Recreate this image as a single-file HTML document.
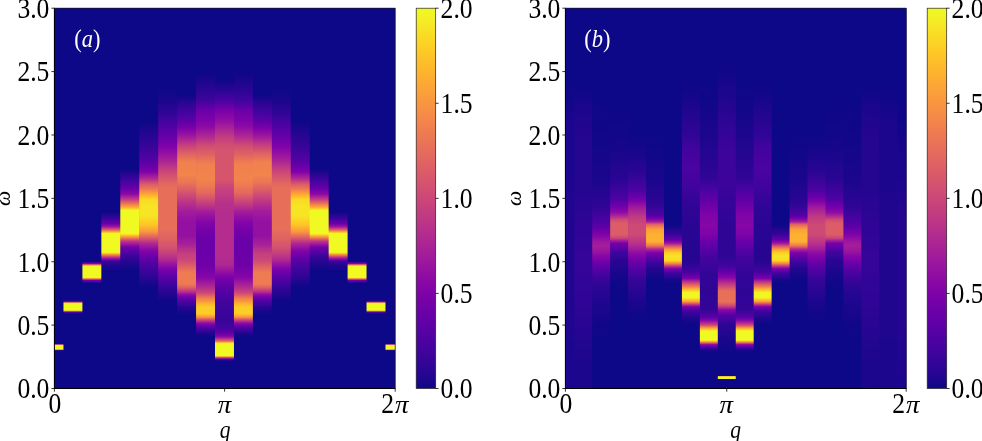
<!DOCTYPE html>
<html><head><meta charset="utf-8"><title>figure</title>
<style>
html,body{margin:0;padding:0;background:#fff;}
body{width:982px;height:441px;overflow:hidden;}
svg{display:block;}
text{font-family:"Liberation Serif","DejaVu Serif",serif;}
</style></head><body>
<svg width="982" height="441" viewBox="0 0 982 441">
<rect width="982" height="441" fill="#fff"/>
<defs><linearGradient id="cb" x1="0" y1="0" x2="0" y2="1"><stop offset="0.0000" stop-color="#f0f921"/><stop offset="0.0156" stop-color="#f1f426"/><stop offset="0.0312" stop-color="#f4ed27"/><stop offset="0.0469" stop-color="#f6e626"/><stop offset="0.0625" stop-color="#f8df25"/><stop offset="0.0781" stop-color="#fad824"/><stop offset="0.0938" stop-color="#fcd225"/><stop offset="0.1094" stop-color="#fdcb26"/><stop offset="0.1250" stop-color="#fdc527"/><stop offset="0.1406" stop-color="#febe2a"/><stop offset="0.1562" stop-color="#feb82c"/><stop offset="0.1719" stop-color="#fdb22f"/><stop offset="0.1875" stop-color="#fdac33"/><stop offset="0.2031" stop-color="#fca636"/><stop offset="0.2188" stop-color="#fba139"/><stop offset="0.2344" stop-color="#fa9b3d"/><stop offset="0.2500" stop-color="#f89540"/><stop offset="0.2656" stop-color="#f79044"/><stop offset="0.2812" stop-color="#f58b47"/><stop offset="0.2969" stop-color="#f3854b"/><stop offset="0.3125" stop-color="#f0804e"/><stop offset="0.3281" stop-color="#ee7b51"/><stop offset="0.3438" stop-color="#eb7655"/><stop offset="0.3594" stop-color="#e97158"/><stop offset="0.3750" stop-color="#e66c5c"/><stop offset="0.3906" stop-color="#e3685f"/><stop offset="0.4062" stop-color="#e06363"/><stop offset="0.4219" stop-color="#dd5e66"/><stop offset="0.4375" stop-color="#da5a6a"/><stop offset="0.4531" stop-color="#d6556d"/><stop offset="0.4688" stop-color="#d35171"/><stop offset="0.4844" stop-color="#cf4c74"/><stop offset="0.5000" stop-color="#cc4778"/><stop offset="0.5156" stop-color="#c8437b"/><stop offset="0.5312" stop-color="#c43e7f"/><stop offset="0.5469" stop-color="#c03a83"/><stop offset="0.5625" stop-color="#bc3587"/><stop offset="0.5781" stop-color="#b7318a"/><stop offset="0.5938" stop-color="#b32c8e"/><stop offset="0.6094" stop-color="#ae2892"/><stop offset="0.6250" stop-color="#aa2395"/><stop offset="0.6406" stop-color="#a51f99"/><stop offset="0.6562" stop-color="#a01a9c"/><stop offset="0.6719" stop-color="#9a169f"/><stop offset="0.6875" stop-color="#9511a1"/><stop offset="0.7031" stop-color="#8f0da4"/><stop offset="0.7188" stop-color="#8a09a5"/><stop offset="0.7344" stop-color="#8405a7"/><stop offset="0.7500" stop-color="#7e03a8"/><stop offset="0.7656" stop-color="#7801a8"/><stop offset="0.7812" stop-color="#7201a8"/><stop offset="0.7969" stop-color="#6c00a8"/><stop offset="0.8125" stop-color="#6600a7"/><stop offset="0.8281" stop-color="#6001a6"/><stop offset="0.8438" stop-color="#5901a5"/><stop offset="0.8594" stop-color="#5302a3"/><stop offset="0.8750" stop-color="#4c02a1"/><stop offset="0.8906" stop-color="#46039f"/><stop offset="0.9062" stop-color="#3f049c"/><stop offset="0.9219" stop-color="#38049a"/><stop offset="0.9375" stop-color="#310597"/><stop offset="0.9531" stop-color="#2a0593"/><stop offset="0.9688" stop-color="#220690"/><stop offset="0.9844" stop-color="#19068c"/><stop offset="1.0000" stop-color="#0d0887"/></linearGradient><linearGradient id="a0" gradientUnits="userSpaceOnUse" x1="0" y1="8.2" x2="0" y2="388.5"><stop offset="0.0000" stop-color="#0d0887"/><stop offset="0.8825" stop-color="#0d0887"/><stop offset="0.8835" stop-color="#8b0aa5"/><stop offset="0.8861" stop-color="#f0f921"/><stop offset="0.8967" stop-color="#f0f921"/><stop offset="0.8993" stop-color="#8b0aa5"/><stop offset="0.9003" stop-color="#0d0887"/><stop offset="1.0000" stop-color="#0d0887"/></linearGradient><linearGradient id="a1" gradientUnits="userSpaceOnUse" x1="0" y1="8.2" x2="0" y2="388.5"><stop offset="0.0000" stop-color="#0d0887"/><stop offset="0.7681" stop-color="#0d0887"/><stop offset="0.7712" stop-color="#6a00a8"/><stop offset="0.7731" stop-color="#cd4a76"/><stop offset="0.7760" stop-color="#f0f921"/><stop offset="0.7944" stop-color="#f0f921"/><stop offset="0.7991" stop-color="#6a00a8"/><stop offset="0.7994" stop-color="#6300a7"/><stop offset="0.8023" stop-color="#0d0887"/><stop offset="1.0000" stop-color="#0d0887"/></linearGradient><linearGradient id="a2" gradientUnits="userSpaceOnUse" x1="0" y1="8.2" x2="0" y2="388.5"><stop offset="0.0000" stop-color="#0d0887"/><stop offset="0.6661" stop-color="#0d0887"/><stop offset="0.6679" stop-color="#3c049b"/><stop offset="0.6713" stop-color="#7e03a8"/><stop offset="0.6732" stop-color="#c13b82"/><stop offset="0.6753" stop-color="#f2844b"/><stop offset="0.6779" stop-color="#f0f921"/><stop offset="0.7081" stop-color="#f0f921"/><stop offset="0.7100" stop-color="#fdac33"/><stop offset="0.7121" stop-color="#e16462"/><stop offset="0.7152" stop-color="#8808a6"/><stop offset="0.7160" stop-color="#6a00a8"/><stop offset="0.7205" stop-color="#310597"/><stop offset="0.7226" stop-color="#0d0887"/><stop offset="1.0000" stop-color="#0d0887"/></linearGradient><linearGradient id="a3" gradientUnits="userSpaceOnUse" x1="0" y1="8.2" x2="0" y2="388.5"><stop offset="0.0000" stop-color="#0d0887"/><stop offset="0.5359" stop-color="#0d0887"/><stop offset="0.5417" stop-color="#20068f"/><stop offset="0.5469" stop-color="#2c0594"/><stop offset="0.5517" stop-color="#370499"/><stop offset="0.5522" stop-color="#38049a"/><stop offset="0.5575" stop-color="#4b03a1"/><stop offset="0.5627" stop-color="#5e01a6"/><stop offset="0.5661" stop-color="#6a00a8"/><stop offset="0.5680" stop-color="#7501a8"/><stop offset="0.5732" stop-color="#9511a1"/><stop offset="0.5753" stop-color="#a11b9b"/><stop offset="0.5785" stop-color="#bf3984"/><stop offset="0.5832" stop-color="#e16462"/><stop offset="0.5837" stop-color="#e56b5d"/><stop offset="0.5877" stop-color="#fca636"/><stop offset="0.5890" stop-color="#febd2a"/><stop offset="0.5924" stop-color="#f0f921"/><stop offset="0.6421" stop-color="#f0f921"/><stop offset="0.6469" stop-color="#fba238"/><stop offset="0.6476" stop-color="#f89540"/><stop offset="0.6521" stop-color="#d7566c"/><stop offset="0.6555" stop-color="#b12a90"/><stop offset="0.6574" stop-color="#a01a9c"/><stop offset="0.6626" stop-color="#6400a7"/><stop offset="0.6663" stop-color="#370499"/><stop offset="0.6679" stop-color="#330597"/><stop offset="0.6732" stop-color="#280592"/><stop offset="0.6779" stop-color="#1d068e"/><stop offset="0.6784" stop-color="#1d068e"/><stop offset="0.6837" stop-color="#19068c"/><stop offset="0.6889" stop-color="#100788"/><stop offset="0.6937" stop-color="#0d0887"/><stop offset="1.0000" stop-color="#0d0887"/></linearGradient><linearGradient id="a4" gradientUnits="userSpaceOnUse" x1="0" y1="8.2" x2="0" y2="388.5"><stop offset="0.0000" stop-color="#0d0887"/><stop offset="0.4228" stop-color="#0d0887"/><stop offset="0.4260" stop-color="#130789"/><stop offset="0.4312" stop-color="#1d068e"/><stop offset="0.4365" stop-color="#280592"/><stop offset="0.4418" stop-color="#2f0596"/><stop offset="0.4465" stop-color="#370499"/><stop offset="0.4470" stop-color="#370499"/><stop offset="0.4523" stop-color="#41049d"/><stop offset="0.4575" stop-color="#4b03a1"/><stop offset="0.4628" stop-color="#5302a3"/><stop offset="0.4681" stop-color="#5c01a6"/><stop offset="0.4702" stop-color="#6001a6"/><stop offset="0.4733" stop-color="#6700a8"/><stop offset="0.4786" stop-color="#7501a8"/><stop offset="0.4838" stop-color="#8104a7"/><stop offset="0.4891" stop-color="#8e0ca4"/><stop offset="0.4899" stop-color="#8f0da4"/><stop offset="0.4943" stop-color="#a31e9a"/><stop offset="0.4996" stop-color="#b7318a"/><stop offset="0.5017" stop-color="#bf3984"/><stop offset="0.5049" stop-color="#cc4778"/><stop offset="0.5101" stop-color="#df6263"/><stop offset="0.5135" stop-color="#ea7457"/><stop offset="0.5154" stop-color="#ef7e50"/><stop offset="0.5206" stop-color="#fa9b3d"/><stop offset="0.5227" stop-color="#fca636"/><stop offset="0.5259" stop-color="#fdc229"/><stop offset="0.5312" stop-color="#f2f227"/><stop offset="0.5319" stop-color="#f0f921"/><stop offset="0.5924" stop-color="#f0f921"/><stop offset="0.5943" stop-color="#f7e425"/><stop offset="0.5995" stop-color="#fca934"/><stop offset="0.6016" stop-color="#f89540"/><stop offset="0.6048" stop-color="#eb7655"/><stop offset="0.6100" stop-color="#cd4a76"/><stop offset="0.6121" stop-color="#bf3984"/><stop offset="0.6153" stop-color="#b32c8e"/><stop offset="0.6206" stop-color="#9c179e"/><stop offset="0.6258" stop-color="#8305a7"/><stop offset="0.6287" stop-color="#7401a8"/><stop offset="0.6311" stop-color="#6e00a8"/><stop offset="0.6363" stop-color="#6100a7"/><stop offset="0.6416" stop-color="#5502a4"/><stop offset="0.6469" stop-color="#46039f"/><stop offset="0.6490" stop-color="#41049d"/><stop offset="0.6521" stop-color="#3c049b"/><stop offset="0.6574" stop-color="#350498"/><stop offset="0.6626" stop-color="#2e0595"/><stop offset="0.6674" stop-color="#260591"/><stop offset="0.6679" stop-color="#240691"/><stop offset="0.6732" stop-color="#20068f"/><stop offset="0.6784" stop-color="#19068c"/><stop offset="0.6837" stop-color="#130789"/><stop offset="0.6884" stop-color="#0d0887"/><stop offset="1.0000" stop-color="#0d0887"/></linearGradient><linearGradient id="a5" gradientUnits="userSpaceOnUse" x1="0" y1="8.2" x2="0" y2="388.5"><stop offset="0.0000" stop-color="#0d0887"/><stop offset="0.2940" stop-color="#0d0887"/><stop offset="0.2998" stop-color="#100788"/><stop offset="0.3050" stop-color="#130789"/><stop offset="0.3103" stop-color="#16078a"/><stop offset="0.3150" stop-color="#1b068d"/><stop offset="0.3155" stop-color="#1b068d"/><stop offset="0.3208" stop-color="#1d068e"/><stop offset="0.3261" stop-color="#220690"/><stop offset="0.3313" stop-color="#240691"/><stop offset="0.3366" stop-color="#280592"/><stop offset="0.3418" stop-color="#2c0594"/><stop offset="0.3471" stop-color="#2e0595"/><stop offset="0.3524" stop-color="#310597"/><stop offset="0.3576" stop-color="#330597"/><stop offset="0.3623" stop-color="#370499"/><stop offset="0.3629" stop-color="#370499"/><stop offset="0.3681" stop-color="#3c049b"/><stop offset="0.3734" stop-color="#3f049c"/><stop offset="0.3786" stop-color="#44039e"/><stop offset="0.3839" stop-color="#48039f"/><stop offset="0.3892" stop-color="#4c02a1"/><stop offset="0.3944" stop-color="#5002a2"/><stop offset="0.3997" stop-color="#5502a4"/><stop offset="0.4018" stop-color="#5601a4"/><stop offset="0.4049" stop-color="#5b01a5"/><stop offset="0.4102" stop-color="#6300a7"/><stop offset="0.4155" stop-color="#6900a8"/><stop offset="0.4207" stop-color="#7100a8"/><stop offset="0.4260" stop-color="#7801a8"/><stop offset="0.4299" stop-color="#7e03a8"/><stop offset="0.4312" stop-color="#8104a7"/><stop offset="0.4365" stop-color="#920fa3"/><stop offset="0.4418" stop-color="#a11b9b"/><stop offset="0.4470" stop-color="#ae2892"/><stop offset="0.4491" stop-color="#b32c8e"/><stop offset="0.4523" stop-color="#be3885"/><stop offset="0.4575" stop-color="#cc4977"/><stop offset="0.4628" stop-color="#da5b69"/><stop offset="0.4633" stop-color="#dc5d67"/><stop offset="0.4681" stop-color="#e3685f"/><stop offset="0.4733" stop-color="#eb7556"/><stop offset="0.4780" stop-color="#f0804e"/><stop offset="0.4786" stop-color="#f1834c"/><stop offset="0.4838" stop-color="#f89540"/><stop offset="0.4886" stop-color="#fca636"/><stop offset="0.4891" stop-color="#fca835"/><stop offset="0.4943" stop-color="#feba2c"/><stop offset="0.4996" stop-color="#fccd25"/><stop offset="0.5030" stop-color="#fad824"/><stop offset="0.5049" stop-color="#fada24"/><stop offset="0.5101" stop-color="#f9dd25"/><stop offset="0.5154" stop-color="#f7e225"/><stop offset="0.5175" stop-color="#f7e425"/><stop offset="0.5464" stop-color="#f7e425"/><stop offset="0.5469" stop-color="#f7e225"/><stop offset="0.5522" stop-color="#f9dc24"/><stop offset="0.5575" stop-color="#fbd524"/><stop offset="0.5627" stop-color="#fccd25"/><stop offset="0.5680" stop-color="#fdc627"/><stop offset="0.5701" stop-color="#fdc527"/><stop offset="0.5732" stop-color="#febb2b"/><stop offset="0.5785" stop-color="#fdae32"/><stop offset="0.5837" stop-color="#fba139"/><stop offset="0.5885" stop-color="#f89540"/><stop offset="0.5890" stop-color="#f79342"/><stop offset="0.5943" stop-color="#ef7e50"/><stop offset="0.5995" stop-color="#e56a5d"/><stop offset="0.6032" stop-color="#dc5d67"/><stop offset="0.6048" stop-color="#d8576b"/><stop offset="0.6100" stop-color="#c9447a"/><stop offset="0.6153" stop-color="#b83289"/><stop offset="0.6174" stop-color="#b12a90"/><stop offset="0.6206" stop-color="#aa2395"/><stop offset="0.6258" stop-color="#9e199d"/><stop offset="0.6311" stop-color="#920fa3"/><stop offset="0.6358" stop-color="#8707a6"/><stop offset="0.6363" stop-color="#8606a6"/><stop offset="0.6416" stop-color="#7d03a8"/><stop offset="0.6469" stop-color="#7501a8"/><stop offset="0.6521" stop-color="#6c00a8"/><stop offset="0.6574" stop-color="#6300a7"/><stop offset="0.6621" stop-color="#5901a5"/><stop offset="0.6626" stop-color="#5901a5"/><stop offset="0.6679" stop-color="#5502a4"/><stop offset="0.6732" stop-color="#4e02a2"/><stop offset="0.6784" stop-color="#4903a0"/><stop offset="0.6837" stop-color="#43039e"/><stop offset="0.6858" stop-color="#41049d"/><stop offset="0.6889" stop-color="#3e049c"/><stop offset="0.6942" stop-color="#3a049a"/><stop offset="0.6994" stop-color="#350498"/><stop offset="0.7047" stop-color="#2f0596"/><stop offset="0.7094" stop-color="#2a0593"/><stop offset="0.7100" stop-color="#2a0593"/><stop offset="0.7152" stop-color="#240691"/><stop offset="0.7205" stop-color="#1d068e"/><stop offset="0.7257" stop-color="#16078a"/><stop offset="0.7331" stop-color="#0d0887"/><stop offset="1.0000" stop-color="#0d0887"/></linearGradient><linearGradient id="a6" gradientUnits="userSpaceOnUse" x1="0" y1="8.2" x2="0" y2="388.5"><stop offset="0.0000" stop-color="#0d0887"/><stop offset="0.2072" stop-color="#0d0887"/><stop offset="0.2209" stop-color="#130789"/><stop offset="0.2261" stop-color="#130789"/><stop offset="0.2314" stop-color="#16078a"/><stop offset="0.2367" stop-color="#19068c"/><stop offset="0.2414" stop-color="#1b068d"/><stop offset="0.2419" stop-color="#1b068d"/><stop offset="0.2472" stop-color="#1d068e"/><stop offset="0.2524" stop-color="#220690"/><stop offset="0.2577" stop-color="#240691"/><stop offset="0.2630" stop-color="#280592"/><stop offset="0.2677" stop-color="#2a0593"/><stop offset="0.2682" stop-color="#2c0594"/><stop offset="0.2735" stop-color="#2f0596"/><stop offset="0.2787" stop-color="#350498"/><stop offset="0.2840" stop-color="#38049a"/><stop offset="0.2892" stop-color="#3e049c"/><stop offset="0.2945" stop-color="#41049d"/><stop offset="0.2998" stop-color="#46039f"/><stop offset="0.3050" stop-color="#4903a0"/><stop offset="0.3103" stop-color="#4e02a2"/><stop offset="0.3150" stop-color="#5102a3"/><stop offset="0.3155" stop-color="#5302a3"/><stop offset="0.3208" stop-color="#5801a4"/><stop offset="0.3261" stop-color="#5c01a6"/><stop offset="0.3313" stop-color="#6100a7"/><stop offset="0.3366" stop-color="#6600a7"/><stop offset="0.3418" stop-color="#6a00a8"/><stop offset="0.3471" stop-color="#6f00a8"/><stop offset="0.3524" stop-color="#7501a8"/><stop offset="0.3576" stop-color="#7a02a8"/><stop offset="0.3623" stop-color="#7e03a8"/><stop offset="0.3629" stop-color="#7e03a8"/><stop offset="0.3681" stop-color="#8405a7"/><stop offset="0.3734" stop-color="#8a09a5"/><stop offset="0.3786" stop-color="#910ea3"/><stop offset="0.3839" stop-color="#9613a1"/><stop offset="0.3892" stop-color="#9c179e"/><stop offset="0.3944" stop-color="#a21d9a"/><stop offset="0.3997" stop-color="#a72197"/><stop offset="0.4018" stop-color="#aa2395"/><stop offset="0.4049" stop-color="#ad2793"/><stop offset="0.4102" stop-color="#b42e8d"/><stop offset="0.4155" stop-color="#bb3488"/><stop offset="0.4207" stop-color="#c13b82"/><stop offset="0.4260" stop-color="#c7427c"/><stop offset="0.4299" stop-color="#cc4778"/><stop offset="0.4312" stop-color="#cc4977"/><stop offset="0.4365" stop-color="#d04d73"/><stop offset="0.4418" stop-color="#d5536f"/><stop offset="0.4470" stop-color="#d9586a"/><stop offset="0.4523" stop-color="#dc5d67"/><stop offset="0.4575" stop-color="#e06363"/><stop offset="0.4586" stop-color="#e16462"/><stop offset="0.4628" stop-color="#e3685f"/><stop offset="0.4681" stop-color="#e56b5d"/><stop offset="0.4728" stop-color="#e76f5a"/><stop offset="0.5785" stop-color="#e76f5a"/><stop offset="0.5837" stop-color="#e66c5c"/><stop offset="0.5890" stop-color="#e56a5d"/><stop offset="0.5943" stop-color="#e3685f"/><stop offset="0.5995" stop-color="#e26561"/><stop offset="0.6048" stop-color="#e06363"/><stop offset="0.6079" stop-color="#df6263"/><stop offset="0.6100" stop-color="#de5f65"/><stop offset="0.6153" stop-color="#da5b69"/><stop offset="0.6206" stop-color="#d8576b"/><stop offset="0.6258" stop-color="#d5536f"/><stop offset="0.6311" stop-color="#d14e72"/><stop offset="0.6319" stop-color="#d14e72"/><stop offset="0.6363" stop-color="#cc4977"/><stop offset="0.6416" stop-color="#c7427c"/><stop offset="0.6469" stop-color="#c23c81"/><stop offset="0.6521" stop-color="#bc3587"/><stop offset="0.6558" stop-color="#b7318a"/><stop offset="0.6574" stop-color="#b52f8c"/><stop offset="0.6626" stop-color="#ac2694"/><stop offset="0.6679" stop-color="#a21d9a"/><stop offset="0.6732" stop-color="#9814a0"/><stop offset="0.6753" stop-color="#9410a2"/><stop offset="0.6784" stop-color="#8d0ba5"/><stop offset="0.6837" stop-color="#8305a7"/><stop offset="0.6858" stop-color="#7e03a8"/><stop offset="0.6889" stop-color="#7801a8"/><stop offset="0.6942" stop-color="#6f00a8"/><stop offset="0.6994" stop-color="#6700a8"/><stop offset="0.7047" stop-color="#5e01a6"/><stop offset="0.7094" stop-color="#5601a4"/><stop offset="0.7100" stop-color="#5502a4"/><stop offset="0.7152" stop-color="#4e02a2"/><stop offset="0.7205" stop-color="#48039f"/><stop offset="0.7257" stop-color="#41049d"/><stop offset="0.7310" stop-color="#38049a"/><stop offset="0.7331" stop-color="#370499"/><stop offset="0.7363" stop-color="#330597"/><stop offset="0.7415" stop-color="#2e0595"/><stop offset="0.7468" stop-color="#280592"/><stop offset="0.7520" stop-color="#220690"/><stop offset="0.7568" stop-color="#1d068e"/><stop offset="0.7573" stop-color="#1d068e"/><stop offset="0.7626" stop-color="#19068c"/><stop offset="0.7678" stop-color="#100788"/><stop offset="0.7725" stop-color="#0d0887"/><stop offset="1.0000" stop-color="#0d0887"/></linearGradient><linearGradient id="a7" gradientUnits="userSpaceOnUse" x1="0" y1="8.2" x2="0" y2="388.5"><stop offset="0.0000" stop-color="#0d0887"/><stop offset="0.2282" stop-color="#0d0887"/><stop offset="0.2314" stop-color="#100788"/><stop offset="0.2367" stop-color="#19068c"/><stop offset="0.2419" stop-color="#20068f"/><stop offset="0.2472" stop-color="#280592"/><stop offset="0.2524" stop-color="#2e0595"/><stop offset="0.2577" stop-color="#330597"/><stop offset="0.2630" stop-color="#38049a"/><stop offset="0.2677" stop-color="#3e049c"/><stop offset="0.2682" stop-color="#3e049c"/><stop offset="0.2735" stop-color="#43039e"/><stop offset="0.2787" stop-color="#4903a0"/><stop offset="0.2840" stop-color="#4e02a2"/><stop offset="0.2892" stop-color="#5502a4"/><stop offset="0.2913" stop-color="#5601a4"/><stop offset="0.2945" stop-color="#5b01a5"/><stop offset="0.2998" stop-color="#6300a7"/><stop offset="0.3050" stop-color="#6a00a8"/><stop offset="0.3103" stop-color="#7201a8"/><stop offset="0.3150" stop-color="#7a02a8"/><stop offset="0.3155" stop-color="#7b02a8"/><stop offset="0.3208" stop-color="#8405a7"/><stop offset="0.3261" stop-color="#8d0ba5"/><stop offset="0.3313" stop-color="#9511a1"/><stop offset="0.3366" stop-color="#9e199d"/><stop offset="0.3387" stop-color="#a11b9b"/><stop offset="0.3418" stop-color="#a72197"/><stop offset="0.3471" stop-color="#b02991"/><stop offset="0.3524" stop-color="#b83289"/><stop offset="0.3576" stop-color="#c13b82"/><stop offset="0.3623" stop-color="#c8437b"/><stop offset="0.3629" stop-color="#c8437b"/><stop offset="0.3681" stop-color="#ce4b75"/><stop offset="0.3734" stop-color="#d5546e"/><stop offset="0.3786" stop-color="#db5c68"/><stop offset="0.3839" stop-color="#e16462"/><stop offset="0.3860" stop-color="#e3685f"/><stop offset="0.3892" stop-color="#e56b5d"/><stop offset="0.3944" stop-color="#e97257"/><stop offset="0.3997" stop-color="#ed7a52"/><stop offset="0.4044" stop-color="#f0804e"/><stop offset="0.4049" stop-color="#f0804e"/><stop offset="0.4102" stop-color="#f1814d"/><stop offset="0.4207" stop-color="#f1814d"/><stop offset="0.4260" stop-color="#f1834c"/><stop offset="0.4312" stop-color="#f1834c"/><stop offset="0.4365" stop-color="#f2844b"/><stop offset="0.4386" stop-color="#f2844b"/><stop offset="0.4418" stop-color="#f1814d"/><stop offset="0.4470" stop-color="#ef7c51"/><stop offset="0.4523" stop-color="#ed7953"/><stop offset="0.4575" stop-color="#eb7556"/><stop offset="0.4586" stop-color="#ea7457"/><stop offset="0.4628" stop-color="#e76f5a"/><stop offset="0.4649" stop-color="#e66c5c"/><stop offset="0.4681" stop-color="#e3685f"/><stop offset="0.4733" stop-color="#de6164"/><stop offset="0.4786" stop-color="#da5b69"/><stop offset="0.4838" stop-color="#d5546e"/><stop offset="0.4886" stop-color="#d14e72"/><stop offset="0.4891" stop-color="#d04d73"/><stop offset="0.4943" stop-color="#cc4778"/><stop offset="0.4996" stop-color="#c6417d"/><stop offset="0.5049" stop-color="#c03a83"/><stop offset="0.5101" stop-color="#bb3488"/><stop offset="0.5122" stop-color="#b7318a"/><stop offset="0.5154" stop-color="#b52f8c"/><stop offset="0.5206" stop-color="#b02991"/><stop offset="0.5259" stop-color="#ab2494"/><stop offset="0.5312" stop-color="#a62098"/><stop offset="0.5359" stop-color="#a11b9b"/><stop offset="0.5364" stop-color="#a11b9b"/><stop offset="0.5417" stop-color="#9e199d"/><stop offset="0.5469" stop-color="#9a169f"/><stop offset="0.5522" stop-color="#9814a0"/><stop offset="0.5575" stop-color="#9511a1"/><stop offset="0.5596" stop-color="#9410a2"/><stop offset="0.5995" stop-color="#9410a2"/><stop offset="0.6048" stop-color="#99159f"/><stop offset="0.6100" stop-color="#9e199d"/><stop offset="0.6153" stop-color="#a21d9a"/><stop offset="0.6206" stop-color="#a72197"/><stop offset="0.6227" stop-color="#aa2395"/><stop offset="0.6258" stop-color="#ad2793"/><stop offset="0.6311" stop-color="#b42e8d"/><stop offset="0.6363" stop-color="#ba3388"/><stop offset="0.6416" stop-color="#c03a83"/><stop offset="0.6463" stop-color="#c5407e"/><stop offset="0.6469" stop-color="#c5407e"/><stop offset="0.6521" stop-color="#c7427c"/><stop offset="0.6574" stop-color="#ca457a"/><stop offset="0.6621" stop-color="#cc4778"/><stop offset="0.6626" stop-color="#cc4778"/><stop offset="0.6679" stop-color="#d35171"/><stop offset="0.6732" stop-color="#d9586a"/><stop offset="0.6784" stop-color="#de6164"/><stop offset="0.6805" stop-color="#e16462"/><stop offset="0.6837" stop-color="#e4695e"/><stop offset="0.6889" stop-color="#e97158"/><stop offset="0.6942" stop-color="#ed7a52"/><stop offset="0.6955" stop-color="#ee7b51"/><stop offset="0.7242" stop-color="#ee7b51"/><stop offset="0.7257" stop-color="#ec7754"/><stop offset="0.7310" stop-color="#e56a5d"/><stop offset="0.7331" stop-color="#e16462"/><stop offset="0.7363" stop-color="#d8576b"/><stop offset="0.7415" stop-color="#c6417d"/><stop offset="0.7436" stop-color="#bf3984"/><stop offset="0.7468" stop-color="#b12a90"/><stop offset="0.7520" stop-color="#9511a1"/><stop offset="0.7528" stop-color="#8f0da4"/><stop offset="0.7573" stop-color="#7e03a8"/><stop offset="0.7626" stop-color="#6900a8"/><stop offset="0.7673" stop-color="#5601a4"/><stop offset="0.7678" stop-color="#5502a4"/><stop offset="0.7731" stop-color="#4903a0"/><stop offset="0.7783" stop-color="#3e049c"/><stop offset="0.7836" stop-color="#2f0596"/><stop offset="0.7857" stop-color="#2a0593"/><stop offset="0.7889" stop-color="#260591"/><stop offset="0.7941" stop-color="#1d068e"/><stop offset="0.7994" stop-color="#16078a"/><stop offset="0.8041" stop-color="#0d0887"/><stop offset="1.0000" stop-color="#0d0887"/></linearGradient><linearGradient id="a8" gradientUnits="userSpaceOnUse" x1="0" y1="8.2" x2="0" y2="388.5"><stop offset="0.0000" stop-color="#0d0887"/><stop offset="0.1678" stop-color="#0d0887"/><stop offset="0.1735" stop-color="#100788"/><stop offset="0.1788" stop-color="#130789"/><stop offset="0.1841" stop-color="#19068c"/><stop offset="0.1893" stop-color="#1b068d"/><stop offset="0.1946" stop-color="#20068f"/><stop offset="0.1998" stop-color="#220690"/><stop offset="0.2051" stop-color="#260591"/><stop offset="0.2104" stop-color="#280592"/><stop offset="0.2151" stop-color="#2a0593"/><stop offset="0.2156" stop-color="#2c0594"/><stop offset="0.2209" stop-color="#2f0596"/><stop offset="0.2261" stop-color="#330597"/><stop offset="0.2314" stop-color="#38049a"/><stop offset="0.2367" stop-color="#3c049b"/><stop offset="0.2419" stop-color="#3f049c"/><stop offset="0.2440" stop-color="#41049d"/><stop offset="0.2472" stop-color="#48039f"/><stop offset="0.2524" stop-color="#5002a2"/><stop offset="0.2577" stop-color="#5901a5"/><stop offset="0.2630" stop-color="#6300a7"/><stop offset="0.2677" stop-color="#6a00a8"/><stop offset="0.2682" stop-color="#6a00a8"/><stop offset="0.2735" stop-color="#6f00a8"/><stop offset="0.2787" stop-color="#7201a8"/><stop offset="0.2840" stop-color="#7701a8"/><stop offset="0.2892" stop-color="#7a02a8"/><stop offset="0.2940" stop-color="#7e03a8"/><stop offset="0.2945" stop-color="#7e03a8"/><stop offset="0.2998" stop-color="#8305a7"/><stop offset="0.3050" stop-color="#8707a6"/><stop offset="0.3103" stop-color="#8b0aa5"/><stop offset="0.3150" stop-color="#8f0da4"/><stop offset="0.3155" stop-color="#910ea3"/><stop offset="0.3208" stop-color="#99159f"/><stop offset="0.3261" stop-color="#a01a9c"/><stop offset="0.3313" stop-color="#a72197"/><stop offset="0.3366" stop-color="#ae2892"/><stop offset="0.3387" stop-color="#b12a90"/><stop offset="0.3418" stop-color="#b52f8c"/><stop offset="0.3471" stop-color="#bd3786"/><stop offset="0.3524" stop-color="#c43e7f"/><stop offset="0.3576" stop-color="#cb4679"/><stop offset="0.3623" stop-color="#d14e72"/><stop offset="0.3629" stop-color="#d14e72"/><stop offset="0.3681" stop-color="#d5546e"/><stop offset="0.3734" stop-color="#d9586a"/><stop offset="0.3786" stop-color="#dc5d67"/><stop offset="0.3839" stop-color="#df6263"/><stop offset="0.3860" stop-color="#e16462"/><stop offset="0.3892" stop-color="#e3685f"/><stop offset="0.3944" stop-color="#e76e5b"/><stop offset="0.3997" stop-color="#ea7457"/><stop offset="0.4049" stop-color="#ed7a52"/><stop offset="0.4102" stop-color="#f07f4f"/><stop offset="0.4110" stop-color="#f0804e"/><stop offset="0.4155" stop-color="#f0804e"/><stop offset="0.4207" stop-color="#f1814d"/><stop offset="0.4312" stop-color="#f1814d"/><stop offset="0.4365" stop-color="#f1834c"/><stop offset="0.4418" stop-color="#f1834c"/><stop offset="0.4470" stop-color="#f2844b"/><stop offset="0.4491" stop-color="#f2844b"/><stop offset="0.4523" stop-color="#f1814d"/><stop offset="0.4575" stop-color="#f07f4f"/><stop offset="0.4628" stop-color="#ef7c51"/><stop offset="0.4649" stop-color="#ee7b51"/><stop offset="0.4681" stop-color="#ed7953"/><stop offset="0.4733" stop-color="#e97257"/><stop offset="0.4786" stop-color="#e76e5b"/><stop offset="0.4838" stop-color="#e4695e"/><stop offset="0.4886" stop-color="#e16462"/><stop offset="0.4891" stop-color="#e06363"/><stop offset="0.4943" stop-color="#da5b69"/><stop offset="0.4996" stop-color="#d5536f"/><stop offset="0.5049" stop-color="#ce4b75"/><stop offset="0.5101" stop-color="#c8437b"/><stop offset="0.5122" stop-color="#c5407e"/><stop offset="0.5154" stop-color="#c13b82"/><stop offset="0.5206" stop-color="#ba3388"/><stop offset="0.5259" stop-color="#b22b8f"/><stop offset="0.5312" stop-color="#aa2395"/><stop offset="0.5359" stop-color="#a11b9b"/><stop offset="0.5364" stop-color="#a11b9b"/><stop offset="0.5417" stop-color="#9a169f"/><stop offset="0.5469" stop-color="#9511a1"/><stop offset="0.5522" stop-color="#8f0da4"/><stop offset="0.5575" stop-color="#8a09a5"/><stop offset="0.5596" stop-color="#8707a6"/><stop offset="0.5627" stop-color="#8405a7"/><stop offset="0.5680" stop-color="#8004a8"/><stop offset="0.5732" stop-color="#7d03a8"/><stop offset="0.5785" stop-color="#7801a8"/><stop offset="0.5832" stop-color="#7401a8"/><stop offset="0.5837" stop-color="#7401a8"/><stop offset="0.5890" stop-color="#7201a8"/><stop offset="0.5943" stop-color="#7100a8"/><stop offset="0.5995" stop-color="#6e00a8"/><stop offset="0.6048" stop-color="#6c00a8"/><stop offset="0.6100" stop-color="#6a00a8"/><stop offset="0.6311" stop-color="#6a00a8"/><stop offset="0.6363" stop-color="#6c00a8"/><stop offset="0.6521" stop-color="#6c00a8"/><stop offset="0.6574" stop-color="#6e00a8"/><stop offset="0.6753" stop-color="#6e00a8"/><stop offset="0.6784" stop-color="#7100a8"/><stop offset="0.6837" stop-color="#7401a8"/><stop offset="0.6889" stop-color="#7801a8"/><stop offset="0.6942" stop-color="#7b02a8"/><stop offset="0.6994" stop-color="#8004a8"/><stop offset="0.7047" stop-color="#8405a7"/><stop offset="0.7094" stop-color="#8707a6"/><stop offset="0.7100" stop-color="#8808a6"/><stop offset="0.7152" stop-color="#920fa3"/><stop offset="0.7205" stop-color="#9c179e"/><stop offset="0.7257" stop-color="#a51f99"/><stop offset="0.7310" stop-color="#ad2793"/><stop offset="0.7331" stop-color="#b12a90"/><stop offset="0.7363" stop-color="#b6308b"/><stop offset="0.7415" stop-color="#c03a83"/><stop offset="0.7468" stop-color="#c9447a"/><stop offset="0.7481" stop-color="#cc4778"/><stop offset="0.7520" stop-color="#d6556d"/><stop offset="0.7573" stop-color="#e4695e"/><stop offset="0.7620" stop-color="#ee7b51"/><stop offset="0.7626" stop-color="#ef7e50"/><stop offset="0.7678" stop-color="#f68f44"/><stop offset="0.7731" stop-color="#fba238"/><stop offset="0.7768" stop-color="#fdb130"/><stop offset="0.7783" stop-color="#fdb52e"/><stop offset="0.7836" stop-color="#fdc627"/><stop offset="0.7857" stop-color="#fcce25"/><stop offset="0.8028" stop-color="#fcce25"/><stop offset="0.8046" stop-color="#fdc229"/><stop offset="0.8099" stop-color="#fba139"/><stop offset="0.8120" stop-color="#f89540"/><stop offset="0.8151" stop-color="#ea7457"/><stop offset="0.8199" stop-color="#cc4778"/><stop offset="0.8204" stop-color="#c8437b"/><stop offset="0.8257" stop-color="#a21d9a"/><stop offset="0.8278" stop-color="#8f0da4"/><stop offset="0.8309" stop-color="#8004a8"/><stop offset="0.8362" stop-color="#6300a7"/><stop offset="0.8383" stop-color="#5601a4"/><stop offset="0.8414" stop-color="#4c02a1"/><stop offset="0.8467" stop-color="#3c049b"/><stop offset="0.8514" stop-color="#2a0593"/><stop offset="0.8520" stop-color="#2a0593"/><stop offset="0.8572" stop-color="#1b068d"/><stop offset="0.8620" stop-color="#0d0887"/><stop offset="1.0000" stop-color="#0d0887"/></linearGradient><linearGradient id="a9" gradientUnits="userSpaceOnUse" x1="0" y1="8.2" x2="0" y2="388.5"><stop offset="0.0000" stop-color="#0d0887"/><stop offset="0.1888" stop-color="#0d0887"/><stop offset="0.1946" stop-color="#130789"/><stop offset="0.1998" stop-color="#1b068d"/><stop offset="0.2051" stop-color="#20068f"/><stop offset="0.2104" stop-color="#260591"/><stop offset="0.2151" stop-color="#2a0593"/><stop offset="0.2156" stop-color="#2c0594"/><stop offset="0.2209" stop-color="#310597"/><stop offset="0.2261" stop-color="#38049a"/><stop offset="0.2314" stop-color="#3e049c"/><stop offset="0.2367" stop-color="#44039e"/><stop offset="0.2419" stop-color="#4903a0"/><stop offset="0.2440" stop-color="#4c02a1"/><stop offset="0.2472" stop-color="#5102a3"/><stop offset="0.2524" stop-color="#5c01a6"/><stop offset="0.2577" stop-color="#6600a7"/><stop offset="0.2630" stop-color="#6f00a8"/><stop offset="0.2677" stop-color="#7801a8"/><stop offset="0.2682" stop-color="#7801a8"/><stop offset="0.2735" stop-color="#7d03a8"/><stop offset="0.2787" stop-color="#8305a7"/><stop offset="0.2840" stop-color="#8707a6"/><stop offset="0.2892" stop-color="#8b0aa5"/><stop offset="0.2945" stop-color="#910ea3"/><stop offset="0.2982" stop-color="#9410a2"/><stop offset="0.2998" stop-color="#9511a1"/><stop offset="0.3050" stop-color="#9d189d"/><stop offset="0.3103" stop-color="#a31e9a"/><stop offset="0.3150" stop-color="#aa2395"/><stop offset="0.3155" stop-color="#aa2395"/><stop offset="0.3208" stop-color="#b02991"/><stop offset="0.3261" stop-color="#b52f8c"/><stop offset="0.3313" stop-color="#bb3488"/><stop offset="0.3366" stop-color="#c03a83"/><stop offset="0.3387" stop-color="#c33d80"/><stop offset="0.3418" stop-color="#c5407e"/><stop offset="0.3471" stop-color="#c8437b"/><stop offset="0.3524" stop-color="#cc4778"/><stop offset="0.3576" stop-color="#cf4c74"/><stop offset="0.3623" stop-color="#d24f71"/><stop offset="0.3629" stop-color="#d24f71"/><stop offset="0.3681" stop-color="#d35171"/><stop offset="0.3734" stop-color="#d5536f"/><stop offset="0.3786" stop-color="#d5546e"/><stop offset="0.3839" stop-color="#d6556d"/><stop offset="0.4523" stop-color="#d6556d"/><stop offset="0.4575" stop-color="#d24f71"/><stop offset="0.4628" stop-color="#cd4a76"/><stop offset="0.4649" stop-color="#cc4778"/><stop offset="0.4681" stop-color="#ca457a"/><stop offset="0.4733" stop-color="#c8437b"/><stop offset="0.4786" stop-color="#c6417d"/><stop offset="0.4838" stop-color="#c43e7f"/><stop offset="0.4891" stop-color="#c23c81"/><stop offset="0.4943" stop-color="#c03a83"/><stop offset="0.4996" stop-color="#bd3786"/><stop offset="0.5049" stop-color="#bb3488"/><stop offset="0.5101" stop-color="#b83289"/><stop offset="0.5122" stop-color="#b7318a"/><stop offset="0.5154" stop-color="#b7318a"/><stop offset="0.5206" stop-color="#b6308b"/><stop offset="0.5259" stop-color="#b52f8c"/><stop offset="0.5312" stop-color="#b42e8d"/><stop offset="0.5359" stop-color="#b32c8e"/><stop offset="0.6574" stop-color="#b32c8e"/><stop offset="0.6626" stop-color="#b22b8f"/><stop offset="0.6679" stop-color="#b02991"/><stop offset="0.6732" stop-color="#ae2892"/><stop offset="0.6753" stop-color="#ad2793"/><stop offset="0.6784" stop-color="#aa2395"/><stop offset="0.6837" stop-color="#a21d9a"/><stop offset="0.6889" stop-color="#9a169f"/><stop offset="0.6937" stop-color="#9410a2"/><stop offset="0.6942" stop-color="#920fa3"/><stop offset="0.6994" stop-color="#8a09a5"/><stop offset="0.7047" stop-color="#8104a7"/><stop offset="0.7068" stop-color="#7e03a8"/><stop offset="0.7100" stop-color="#7a02a8"/><stop offset="0.7152" stop-color="#7201a8"/><stop offset="0.7205" stop-color="#6c00a8"/><stop offset="0.7252" stop-color="#6600a7"/><stop offset="0.7257" stop-color="#6600a7"/><stop offset="0.7310" stop-color="#6100a7"/><stop offset="0.7363" stop-color="#5c01a6"/><stop offset="0.7415" stop-color="#5801a4"/><stop offset="0.7436" stop-color="#5601a4"/><stop offset="0.7468" stop-color="#5502a4"/><stop offset="0.7520" stop-color="#5102a3"/><stop offset="0.7573" stop-color="#4c02a1"/><stop offset="0.7626" stop-color="#4903a0"/><stop offset="0.7678" stop-color="#46039f"/><stop offset="0.7731" stop-color="#43039e"/><stop offset="0.7783" stop-color="#3f049c"/><stop offset="0.7791" stop-color="#3f049c"/><stop offset="0.7836" stop-color="#3e049c"/><stop offset="0.7889" stop-color="#3e049c"/><stop offset="0.7941" stop-color="#3c049b"/><stop offset="0.8046" stop-color="#3c049b"/><stop offset="0.8099" stop-color="#3a049a"/><stop offset="0.8151" stop-color="#3a049a"/><stop offset="0.8204" stop-color="#38049a"/><stop offset="0.8225" stop-color="#38049a"/><stop offset="0.8257" stop-color="#3a049a"/><stop offset="0.8309" stop-color="#3e049c"/><stop offset="0.8362" stop-color="#43039e"/><stop offset="0.8409" stop-color="#46039f"/><stop offset="0.8414" stop-color="#46039f"/><stop offset="0.8467" stop-color="#5002a2"/><stop offset="0.8520" stop-color="#5901a5"/><stop offset="0.8522" stop-color="#5901a5"/><stop offset="0.8572" stop-color="#7100a8"/><stop offset="0.8625" stop-color="#8707a6"/><stop offset="0.8646" stop-color="#8f0da4"/><stop offset="0.8677" stop-color="#ad2793"/><stop offset="0.8730" stop-color="#d5536f"/><stop offset="0.8751" stop-color="#e16462"/><stop offset="0.8783" stop-color="#fca636"/><stop offset="0.8814" stop-color="#f0f921"/><stop offset="0.9143" stop-color="#f0f921"/><stop offset="0.9151" stop-color="#fcd025"/><stop offset="0.9185" stop-color="#cc4778"/><stop offset="0.9203" stop-color="#a51f99"/><stop offset="0.9237" stop-color="#41049d"/><stop offset="0.9256" stop-color="#2c0594"/><stop offset="0.9277" stop-color="#0d0887"/><stop offset="1.0000" stop-color="#0d0887"/></linearGradient><linearGradient id="a10" gradientUnits="userSpaceOnUse" x1="0" y1="8.2" x2="0" y2="388.5"><stop offset="0.0000" stop-color="#0d0887"/><stop offset="0.1678" stop-color="#0d0887"/><stop offset="0.1735" stop-color="#100788"/><stop offset="0.1788" stop-color="#130789"/><stop offset="0.1841" stop-color="#19068c"/><stop offset="0.1893" stop-color="#1b068d"/><stop offset="0.1946" stop-color="#20068f"/><stop offset="0.1998" stop-color="#220690"/><stop offset="0.2051" stop-color="#260591"/><stop offset="0.2104" stop-color="#280592"/><stop offset="0.2151" stop-color="#2a0593"/><stop offset="0.2156" stop-color="#2c0594"/><stop offset="0.2209" stop-color="#2f0596"/><stop offset="0.2261" stop-color="#330597"/><stop offset="0.2314" stop-color="#38049a"/><stop offset="0.2367" stop-color="#3c049b"/><stop offset="0.2419" stop-color="#3f049c"/><stop offset="0.2440" stop-color="#41049d"/><stop offset="0.2472" stop-color="#48039f"/><stop offset="0.2524" stop-color="#5002a2"/><stop offset="0.2577" stop-color="#5901a5"/><stop offset="0.2630" stop-color="#6300a7"/><stop offset="0.2677" stop-color="#6a00a8"/><stop offset="0.2682" stop-color="#6a00a8"/><stop offset="0.2735" stop-color="#6f00a8"/><stop offset="0.2787" stop-color="#7201a8"/><stop offset="0.2840" stop-color="#7701a8"/><stop offset="0.2892" stop-color="#7a02a8"/><stop offset="0.2940" stop-color="#7e03a8"/><stop offset="0.2945" stop-color="#7e03a8"/><stop offset="0.2998" stop-color="#8305a7"/><stop offset="0.3050" stop-color="#8707a6"/><stop offset="0.3103" stop-color="#8b0aa5"/><stop offset="0.3150" stop-color="#8f0da4"/><stop offset="0.3155" stop-color="#910ea3"/><stop offset="0.3208" stop-color="#99159f"/><stop offset="0.3261" stop-color="#a01a9c"/><stop offset="0.3313" stop-color="#a72197"/><stop offset="0.3366" stop-color="#ae2892"/><stop offset="0.3387" stop-color="#b12a90"/><stop offset="0.3418" stop-color="#b52f8c"/><stop offset="0.3471" stop-color="#bd3786"/><stop offset="0.3524" stop-color="#c43e7f"/><stop offset="0.3576" stop-color="#cb4679"/><stop offset="0.3623" stop-color="#d14e72"/><stop offset="0.3629" stop-color="#d14e72"/><stop offset="0.3681" stop-color="#d5546e"/><stop offset="0.3734" stop-color="#d9586a"/><stop offset="0.3786" stop-color="#dc5d67"/><stop offset="0.3839" stop-color="#df6263"/><stop offset="0.3860" stop-color="#e16462"/><stop offset="0.3892" stop-color="#e3685f"/><stop offset="0.3944" stop-color="#e76e5b"/><stop offset="0.3997" stop-color="#ea7457"/><stop offset="0.4049" stop-color="#ed7a52"/><stop offset="0.4102" stop-color="#f07f4f"/><stop offset="0.4110" stop-color="#f0804e"/><stop offset="0.4155" stop-color="#f0804e"/><stop offset="0.4207" stop-color="#f1814d"/><stop offset="0.4312" stop-color="#f1814d"/><stop offset="0.4365" stop-color="#f1834c"/><stop offset="0.4418" stop-color="#f1834c"/><stop offset="0.4470" stop-color="#f2844b"/><stop offset="0.4491" stop-color="#f2844b"/><stop offset="0.4523" stop-color="#f1814d"/><stop offset="0.4575" stop-color="#f07f4f"/><stop offset="0.4628" stop-color="#ef7c51"/><stop offset="0.4649" stop-color="#ee7b51"/><stop offset="0.4681" stop-color="#ed7953"/><stop offset="0.4733" stop-color="#e97257"/><stop offset="0.4786" stop-color="#e76e5b"/><stop offset="0.4838" stop-color="#e4695e"/><stop offset="0.4886" stop-color="#e16462"/><stop offset="0.4891" stop-color="#e06363"/><stop offset="0.4943" stop-color="#da5b69"/><stop offset="0.4996" stop-color="#d5536f"/><stop offset="0.5049" stop-color="#ce4b75"/><stop offset="0.5101" stop-color="#c8437b"/><stop offset="0.5122" stop-color="#c5407e"/><stop offset="0.5154" stop-color="#c13b82"/><stop offset="0.5206" stop-color="#ba3388"/><stop offset="0.5259" stop-color="#b22b8f"/><stop offset="0.5312" stop-color="#aa2395"/><stop offset="0.5359" stop-color="#a11b9b"/><stop offset="0.5364" stop-color="#a11b9b"/><stop offset="0.5417" stop-color="#9a169f"/><stop offset="0.5469" stop-color="#9511a1"/><stop offset="0.5522" stop-color="#8f0da4"/><stop offset="0.5575" stop-color="#8a09a5"/><stop offset="0.5596" stop-color="#8707a6"/><stop offset="0.5627" stop-color="#8405a7"/><stop offset="0.5680" stop-color="#8004a8"/><stop offset="0.5732" stop-color="#7d03a8"/><stop offset="0.5785" stop-color="#7801a8"/><stop offset="0.5832" stop-color="#7401a8"/><stop offset="0.5837" stop-color="#7401a8"/><stop offset="0.5890" stop-color="#7201a8"/><stop offset="0.5943" stop-color="#7100a8"/><stop offset="0.5995" stop-color="#6e00a8"/><stop offset="0.6048" stop-color="#6c00a8"/><stop offset="0.6100" stop-color="#6a00a8"/><stop offset="0.6311" stop-color="#6a00a8"/><stop offset="0.6363" stop-color="#6c00a8"/><stop offset="0.6521" stop-color="#6c00a8"/><stop offset="0.6574" stop-color="#6e00a8"/><stop offset="0.6753" stop-color="#6e00a8"/><stop offset="0.6784" stop-color="#7100a8"/><stop offset="0.6837" stop-color="#7401a8"/><stop offset="0.6889" stop-color="#7801a8"/><stop offset="0.6942" stop-color="#7b02a8"/><stop offset="0.6994" stop-color="#8004a8"/><stop offset="0.7047" stop-color="#8405a7"/><stop offset="0.7094" stop-color="#8707a6"/><stop offset="0.7100" stop-color="#8808a6"/><stop offset="0.7152" stop-color="#920fa3"/><stop offset="0.7205" stop-color="#9c179e"/><stop offset="0.7257" stop-color="#a51f99"/><stop offset="0.7310" stop-color="#ad2793"/><stop offset="0.7331" stop-color="#b12a90"/><stop offset="0.7363" stop-color="#b6308b"/><stop offset="0.7415" stop-color="#c03a83"/><stop offset="0.7468" stop-color="#c9447a"/><stop offset="0.7481" stop-color="#cc4778"/><stop offset="0.7520" stop-color="#d6556d"/><stop offset="0.7573" stop-color="#e4695e"/><stop offset="0.7620" stop-color="#ee7b51"/><stop offset="0.7626" stop-color="#ef7e50"/><stop offset="0.7678" stop-color="#f68f44"/><stop offset="0.7731" stop-color="#fba238"/><stop offset="0.7768" stop-color="#fdb130"/><stop offset="0.7783" stop-color="#fdb52e"/><stop offset="0.7836" stop-color="#fdc627"/><stop offset="0.7857" stop-color="#fcce25"/><stop offset="0.8028" stop-color="#fcce25"/><stop offset="0.8046" stop-color="#fdc229"/><stop offset="0.8099" stop-color="#fba139"/><stop offset="0.8120" stop-color="#f89540"/><stop offset="0.8151" stop-color="#ea7457"/><stop offset="0.8199" stop-color="#cc4778"/><stop offset="0.8204" stop-color="#c8437b"/><stop offset="0.8257" stop-color="#a21d9a"/><stop offset="0.8278" stop-color="#8f0da4"/><stop offset="0.8309" stop-color="#8004a8"/><stop offset="0.8362" stop-color="#6300a7"/><stop offset="0.8383" stop-color="#5601a4"/><stop offset="0.8414" stop-color="#4c02a1"/><stop offset="0.8467" stop-color="#3c049b"/><stop offset="0.8514" stop-color="#2a0593"/><stop offset="0.8520" stop-color="#2a0593"/><stop offset="0.8572" stop-color="#1b068d"/><stop offset="0.8620" stop-color="#0d0887"/><stop offset="1.0000" stop-color="#0d0887"/></linearGradient><linearGradient id="a11" gradientUnits="userSpaceOnUse" x1="0" y1="8.2" x2="0" y2="388.5"><stop offset="0.0000" stop-color="#0d0887"/><stop offset="0.2282" stop-color="#0d0887"/><stop offset="0.2314" stop-color="#100788"/><stop offset="0.2367" stop-color="#19068c"/><stop offset="0.2419" stop-color="#20068f"/><stop offset="0.2472" stop-color="#280592"/><stop offset="0.2524" stop-color="#2e0595"/><stop offset="0.2577" stop-color="#330597"/><stop offset="0.2630" stop-color="#38049a"/><stop offset="0.2677" stop-color="#3e049c"/><stop offset="0.2682" stop-color="#3e049c"/><stop offset="0.2735" stop-color="#43039e"/><stop offset="0.2787" stop-color="#4903a0"/><stop offset="0.2840" stop-color="#4e02a2"/><stop offset="0.2892" stop-color="#5502a4"/><stop offset="0.2913" stop-color="#5601a4"/><stop offset="0.2945" stop-color="#5b01a5"/><stop offset="0.2998" stop-color="#6300a7"/><stop offset="0.3050" stop-color="#6a00a8"/><stop offset="0.3103" stop-color="#7201a8"/><stop offset="0.3150" stop-color="#7a02a8"/><stop offset="0.3155" stop-color="#7b02a8"/><stop offset="0.3208" stop-color="#8405a7"/><stop offset="0.3261" stop-color="#8d0ba5"/><stop offset="0.3313" stop-color="#9511a1"/><stop offset="0.3366" stop-color="#9e199d"/><stop offset="0.3387" stop-color="#a11b9b"/><stop offset="0.3418" stop-color="#a72197"/><stop offset="0.3471" stop-color="#b02991"/><stop offset="0.3524" stop-color="#b83289"/><stop offset="0.3576" stop-color="#c13b82"/><stop offset="0.3623" stop-color="#c8437b"/><stop offset="0.3629" stop-color="#c8437b"/><stop offset="0.3681" stop-color="#ce4b75"/><stop offset="0.3734" stop-color="#d5546e"/><stop offset="0.3786" stop-color="#db5c68"/><stop offset="0.3839" stop-color="#e16462"/><stop offset="0.3860" stop-color="#e3685f"/><stop offset="0.3892" stop-color="#e56b5d"/><stop offset="0.3944" stop-color="#e97257"/><stop offset="0.3997" stop-color="#ed7a52"/><stop offset="0.4044" stop-color="#f0804e"/><stop offset="0.4049" stop-color="#f0804e"/><stop offset="0.4102" stop-color="#f1814d"/><stop offset="0.4207" stop-color="#f1814d"/><stop offset="0.4260" stop-color="#f1834c"/><stop offset="0.4312" stop-color="#f1834c"/><stop offset="0.4365" stop-color="#f2844b"/><stop offset="0.4386" stop-color="#f2844b"/><stop offset="0.4418" stop-color="#f1814d"/><stop offset="0.4470" stop-color="#ef7c51"/><stop offset="0.4523" stop-color="#ed7953"/><stop offset="0.4575" stop-color="#eb7556"/><stop offset="0.4586" stop-color="#ea7457"/><stop offset="0.4628" stop-color="#e76f5a"/><stop offset="0.4649" stop-color="#e66c5c"/><stop offset="0.4681" stop-color="#e3685f"/><stop offset="0.4733" stop-color="#de6164"/><stop offset="0.4786" stop-color="#da5b69"/><stop offset="0.4838" stop-color="#d5546e"/><stop offset="0.4886" stop-color="#d14e72"/><stop offset="0.4891" stop-color="#d04d73"/><stop offset="0.4943" stop-color="#cc4778"/><stop offset="0.4996" stop-color="#c6417d"/><stop offset="0.5049" stop-color="#c03a83"/><stop offset="0.5101" stop-color="#bb3488"/><stop offset="0.5122" stop-color="#b7318a"/><stop offset="0.5154" stop-color="#b52f8c"/><stop offset="0.5206" stop-color="#b02991"/><stop offset="0.5259" stop-color="#ab2494"/><stop offset="0.5312" stop-color="#a62098"/><stop offset="0.5359" stop-color="#a11b9b"/><stop offset="0.5364" stop-color="#a11b9b"/><stop offset="0.5417" stop-color="#9e199d"/><stop offset="0.5469" stop-color="#9a169f"/><stop offset="0.5522" stop-color="#9814a0"/><stop offset="0.5575" stop-color="#9511a1"/><stop offset="0.5596" stop-color="#9410a2"/><stop offset="0.5995" stop-color="#9410a2"/><stop offset="0.6048" stop-color="#99159f"/><stop offset="0.6100" stop-color="#9e199d"/><stop offset="0.6153" stop-color="#a21d9a"/><stop offset="0.6206" stop-color="#a72197"/><stop offset="0.6227" stop-color="#aa2395"/><stop offset="0.6258" stop-color="#ad2793"/><stop offset="0.6311" stop-color="#b42e8d"/><stop offset="0.6363" stop-color="#ba3388"/><stop offset="0.6416" stop-color="#c03a83"/><stop offset="0.6463" stop-color="#c5407e"/><stop offset="0.6469" stop-color="#c5407e"/><stop offset="0.6521" stop-color="#c7427c"/><stop offset="0.6574" stop-color="#ca457a"/><stop offset="0.6621" stop-color="#cc4778"/><stop offset="0.6626" stop-color="#cc4778"/><stop offset="0.6679" stop-color="#d35171"/><stop offset="0.6732" stop-color="#d9586a"/><stop offset="0.6784" stop-color="#de6164"/><stop offset="0.6805" stop-color="#e16462"/><stop offset="0.6837" stop-color="#e4695e"/><stop offset="0.6889" stop-color="#e97158"/><stop offset="0.6942" stop-color="#ed7a52"/><stop offset="0.6955" stop-color="#ee7b51"/><stop offset="0.7242" stop-color="#ee7b51"/><stop offset="0.7257" stop-color="#ec7754"/><stop offset="0.7310" stop-color="#e56a5d"/><stop offset="0.7331" stop-color="#e16462"/><stop offset="0.7363" stop-color="#d8576b"/><stop offset="0.7415" stop-color="#c6417d"/><stop offset="0.7436" stop-color="#bf3984"/><stop offset="0.7468" stop-color="#b12a90"/><stop offset="0.7520" stop-color="#9511a1"/><stop offset="0.7528" stop-color="#8f0da4"/><stop offset="0.7573" stop-color="#7e03a8"/><stop offset="0.7626" stop-color="#6900a8"/><stop offset="0.7673" stop-color="#5601a4"/><stop offset="0.7678" stop-color="#5502a4"/><stop offset="0.7731" stop-color="#4903a0"/><stop offset="0.7783" stop-color="#3e049c"/><stop offset="0.7836" stop-color="#2f0596"/><stop offset="0.7857" stop-color="#2a0593"/><stop offset="0.7889" stop-color="#260591"/><stop offset="0.7941" stop-color="#1d068e"/><stop offset="0.7994" stop-color="#16078a"/><stop offset="0.8041" stop-color="#0d0887"/><stop offset="1.0000" stop-color="#0d0887"/></linearGradient><linearGradient id="a12" gradientUnits="userSpaceOnUse" x1="0" y1="8.2" x2="0" y2="388.5"><stop offset="0.0000" stop-color="#0d0887"/><stop offset="0.2072" stop-color="#0d0887"/><stop offset="0.2209" stop-color="#130789"/><stop offset="0.2261" stop-color="#130789"/><stop offset="0.2314" stop-color="#16078a"/><stop offset="0.2367" stop-color="#19068c"/><stop offset="0.2414" stop-color="#1b068d"/><stop offset="0.2419" stop-color="#1b068d"/><stop offset="0.2472" stop-color="#1d068e"/><stop offset="0.2524" stop-color="#220690"/><stop offset="0.2577" stop-color="#240691"/><stop offset="0.2630" stop-color="#280592"/><stop offset="0.2677" stop-color="#2a0593"/><stop offset="0.2682" stop-color="#2c0594"/><stop offset="0.2735" stop-color="#2f0596"/><stop offset="0.2787" stop-color="#350498"/><stop offset="0.2840" stop-color="#38049a"/><stop offset="0.2892" stop-color="#3e049c"/><stop offset="0.2945" stop-color="#41049d"/><stop offset="0.2998" stop-color="#46039f"/><stop offset="0.3050" stop-color="#4903a0"/><stop offset="0.3103" stop-color="#4e02a2"/><stop offset="0.3150" stop-color="#5102a3"/><stop offset="0.3155" stop-color="#5302a3"/><stop offset="0.3208" stop-color="#5801a4"/><stop offset="0.3261" stop-color="#5c01a6"/><stop offset="0.3313" stop-color="#6100a7"/><stop offset="0.3366" stop-color="#6600a7"/><stop offset="0.3418" stop-color="#6a00a8"/><stop offset="0.3471" stop-color="#6f00a8"/><stop offset="0.3524" stop-color="#7501a8"/><stop offset="0.3576" stop-color="#7a02a8"/><stop offset="0.3623" stop-color="#7e03a8"/><stop offset="0.3629" stop-color="#7e03a8"/><stop offset="0.3681" stop-color="#8405a7"/><stop offset="0.3734" stop-color="#8a09a5"/><stop offset="0.3786" stop-color="#910ea3"/><stop offset="0.3839" stop-color="#9613a1"/><stop offset="0.3892" stop-color="#9c179e"/><stop offset="0.3944" stop-color="#a21d9a"/><stop offset="0.3997" stop-color="#a72197"/><stop offset="0.4018" stop-color="#aa2395"/><stop offset="0.4049" stop-color="#ad2793"/><stop offset="0.4102" stop-color="#b42e8d"/><stop offset="0.4155" stop-color="#bb3488"/><stop offset="0.4207" stop-color="#c13b82"/><stop offset="0.4260" stop-color="#c7427c"/><stop offset="0.4299" stop-color="#cc4778"/><stop offset="0.4312" stop-color="#cc4977"/><stop offset="0.4365" stop-color="#d04d73"/><stop offset="0.4418" stop-color="#d5536f"/><stop offset="0.4470" stop-color="#d9586a"/><stop offset="0.4523" stop-color="#dc5d67"/><stop offset="0.4575" stop-color="#e06363"/><stop offset="0.4586" stop-color="#e16462"/><stop offset="0.4628" stop-color="#e3685f"/><stop offset="0.4681" stop-color="#e56b5d"/><stop offset="0.4728" stop-color="#e76f5a"/><stop offset="0.5785" stop-color="#e76f5a"/><stop offset="0.5837" stop-color="#e66c5c"/><stop offset="0.5890" stop-color="#e56a5d"/><stop offset="0.5943" stop-color="#e3685f"/><stop offset="0.5995" stop-color="#e26561"/><stop offset="0.6048" stop-color="#e06363"/><stop offset="0.6079" stop-color="#df6263"/><stop offset="0.6100" stop-color="#de5f65"/><stop offset="0.6153" stop-color="#da5b69"/><stop offset="0.6206" stop-color="#d8576b"/><stop offset="0.6258" stop-color="#d5536f"/><stop offset="0.6311" stop-color="#d14e72"/><stop offset="0.6319" stop-color="#d14e72"/><stop offset="0.6363" stop-color="#cc4977"/><stop offset="0.6416" stop-color="#c7427c"/><stop offset="0.6469" stop-color="#c23c81"/><stop offset="0.6521" stop-color="#bc3587"/><stop offset="0.6558" stop-color="#b7318a"/><stop offset="0.6574" stop-color="#b52f8c"/><stop offset="0.6626" stop-color="#ac2694"/><stop offset="0.6679" stop-color="#a21d9a"/><stop offset="0.6732" stop-color="#9814a0"/><stop offset="0.6753" stop-color="#9410a2"/><stop offset="0.6784" stop-color="#8d0ba5"/><stop offset="0.6837" stop-color="#8305a7"/><stop offset="0.6858" stop-color="#7e03a8"/><stop offset="0.6889" stop-color="#7801a8"/><stop offset="0.6942" stop-color="#6f00a8"/><stop offset="0.6994" stop-color="#6700a8"/><stop offset="0.7047" stop-color="#5e01a6"/><stop offset="0.7094" stop-color="#5601a4"/><stop offset="0.7100" stop-color="#5502a4"/><stop offset="0.7152" stop-color="#4e02a2"/><stop offset="0.7205" stop-color="#48039f"/><stop offset="0.7257" stop-color="#41049d"/><stop offset="0.7310" stop-color="#38049a"/><stop offset="0.7331" stop-color="#370499"/><stop offset="0.7363" stop-color="#330597"/><stop offset="0.7415" stop-color="#2e0595"/><stop offset="0.7468" stop-color="#280592"/><stop offset="0.7520" stop-color="#220690"/><stop offset="0.7568" stop-color="#1d068e"/><stop offset="0.7573" stop-color="#1d068e"/><stop offset="0.7626" stop-color="#19068c"/><stop offset="0.7678" stop-color="#100788"/><stop offset="0.7725" stop-color="#0d0887"/><stop offset="1.0000" stop-color="#0d0887"/></linearGradient><linearGradient id="a13" gradientUnits="userSpaceOnUse" x1="0" y1="8.2" x2="0" y2="388.5"><stop offset="0.0000" stop-color="#0d0887"/><stop offset="0.2940" stop-color="#0d0887"/><stop offset="0.2998" stop-color="#100788"/><stop offset="0.3050" stop-color="#130789"/><stop offset="0.3103" stop-color="#16078a"/><stop offset="0.3150" stop-color="#1b068d"/><stop offset="0.3155" stop-color="#1b068d"/><stop offset="0.3208" stop-color="#1d068e"/><stop offset="0.3261" stop-color="#220690"/><stop offset="0.3313" stop-color="#240691"/><stop offset="0.3366" stop-color="#280592"/><stop offset="0.3418" stop-color="#2c0594"/><stop offset="0.3471" stop-color="#2e0595"/><stop offset="0.3524" stop-color="#310597"/><stop offset="0.3576" stop-color="#330597"/><stop offset="0.3623" stop-color="#370499"/><stop offset="0.3629" stop-color="#370499"/><stop offset="0.3681" stop-color="#3c049b"/><stop offset="0.3734" stop-color="#3f049c"/><stop offset="0.3786" stop-color="#44039e"/><stop offset="0.3839" stop-color="#48039f"/><stop offset="0.3892" stop-color="#4c02a1"/><stop offset="0.3944" stop-color="#5002a2"/><stop offset="0.3997" stop-color="#5502a4"/><stop offset="0.4018" stop-color="#5601a4"/><stop offset="0.4049" stop-color="#5b01a5"/><stop offset="0.4102" stop-color="#6300a7"/><stop offset="0.4155" stop-color="#6900a8"/><stop offset="0.4207" stop-color="#7100a8"/><stop offset="0.4260" stop-color="#7801a8"/><stop offset="0.4299" stop-color="#7e03a8"/><stop offset="0.4312" stop-color="#8104a7"/><stop offset="0.4365" stop-color="#920fa3"/><stop offset="0.4418" stop-color="#a11b9b"/><stop offset="0.4470" stop-color="#ae2892"/><stop offset="0.4491" stop-color="#b32c8e"/><stop offset="0.4523" stop-color="#be3885"/><stop offset="0.4575" stop-color="#cc4977"/><stop offset="0.4628" stop-color="#da5b69"/><stop offset="0.4633" stop-color="#dc5d67"/><stop offset="0.4681" stop-color="#e3685f"/><stop offset="0.4733" stop-color="#eb7556"/><stop offset="0.4780" stop-color="#f0804e"/><stop offset="0.4786" stop-color="#f1834c"/><stop offset="0.4838" stop-color="#f89540"/><stop offset="0.4886" stop-color="#fca636"/><stop offset="0.4891" stop-color="#fca835"/><stop offset="0.4943" stop-color="#feba2c"/><stop offset="0.4996" stop-color="#fccd25"/><stop offset="0.5030" stop-color="#fad824"/><stop offset="0.5049" stop-color="#fada24"/><stop offset="0.5101" stop-color="#f9dd25"/><stop offset="0.5154" stop-color="#f7e225"/><stop offset="0.5175" stop-color="#f7e425"/><stop offset="0.5464" stop-color="#f7e425"/><stop offset="0.5469" stop-color="#f7e225"/><stop offset="0.5522" stop-color="#f9dc24"/><stop offset="0.5575" stop-color="#fbd524"/><stop offset="0.5627" stop-color="#fccd25"/><stop offset="0.5680" stop-color="#fdc627"/><stop offset="0.5701" stop-color="#fdc527"/><stop offset="0.5732" stop-color="#febb2b"/><stop offset="0.5785" stop-color="#fdae32"/><stop offset="0.5837" stop-color="#fba139"/><stop offset="0.5885" stop-color="#f89540"/><stop offset="0.5890" stop-color="#f79342"/><stop offset="0.5943" stop-color="#ef7e50"/><stop offset="0.5995" stop-color="#e56a5d"/><stop offset="0.6032" stop-color="#dc5d67"/><stop offset="0.6048" stop-color="#d8576b"/><stop offset="0.6100" stop-color="#c9447a"/><stop offset="0.6153" stop-color="#b83289"/><stop offset="0.6174" stop-color="#b12a90"/><stop offset="0.6206" stop-color="#aa2395"/><stop offset="0.6258" stop-color="#9e199d"/><stop offset="0.6311" stop-color="#920fa3"/><stop offset="0.6358" stop-color="#8707a6"/><stop offset="0.6363" stop-color="#8606a6"/><stop offset="0.6416" stop-color="#7d03a8"/><stop offset="0.6469" stop-color="#7501a8"/><stop offset="0.6521" stop-color="#6c00a8"/><stop offset="0.6574" stop-color="#6300a7"/><stop offset="0.6621" stop-color="#5901a5"/><stop offset="0.6626" stop-color="#5901a5"/><stop offset="0.6679" stop-color="#5502a4"/><stop offset="0.6732" stop-color="#4e02a2"/><stop offset="0.6784" stop-color="#4903a0"/><stop offset="0.6837" stop-color="#43039e"/><stop offset="0.6858" stop-color="#41049d"/><stop offset="0.6889" stop-color="#3e049c"/><stop offset="0.6942" stop-color="#3a049a"/><stop offset="0.6994" stop-color="#350498"/><stop offset="0.7047" stop-color="#2f0596"/><stop offset="0.7094" stop-color="#2a0593"/><stop offset="0.7100" stop-color="#2a0593"/><stop offset="0.7152" stop-color="#240691"/><stop offset="0.7205" stop-color="#1d068e"/><stop offset="0.7257" stop-color="#16078a"/><stop offset="0.7331" stop-color="#0d0887"/><stop offset="1.0000" stop-color="#0d0887"/></linearGradient><linearGradient id="a14" gradientUnits="userSpaceOnUse" x1="0" y1="8.2" x2="0" y2="388.5"><stop offset="0.0000" stop-color="#0d0887"/><stop offset="0.4228" stop-color="#0d0887"/><stop offset="0.4260" stop-color="#130789"/><stop offset="0.4312" stop-color="#1d068e"/><stop offset="0.4365" stop-color="#280592"/><stop offset="0.4418" stop-color="#2f0596"/><stop offset="0.4465" stop-color="#370499"/><stop offset="0.4470" stop-color="#370499"/><stop offset="0.4523" stop-color="#41049d"/><stop offset="0.4575" stop-color="#4b03a1"/><stop offset="0.4628" stop-color="#5302a3"/><stop offset="0.4681" stop-color="#5c01a6"/><stop offset="0.4702" stop-color="#6001a6"/><stop offset="0.4733" stop-color="#6700a8"/><stop offset="0.4786" stop-color="#7501a8"/><stop offset="0.4838" stop-color="#8104a7"/><stop offset="0.4891" stop-color="#8e0ca4"/><stop offset="0.4899" stop-color="#8f0da4"/><stop offset="0.4943" stop-color="#a31e9a"/><stop offset="0.4996" stop-color="#b7318a"/><stop offset="0.5017" stop-color="#bf3984"/><stop offset="0.5049" stop-color="#cc4778"/><stop offset="0.5101" stop-color="#df6263"/><stop offset="0.5135" stop-color="#ea7457"/><stop offset="0.5154" stop-color="#ef7e50"/><stop offset="0.5206" stop-color="#fa9b3d"/><stop offset="0.5227" stop-color="#fca636"/><stop offset="0.5259" stop-color="#fdc229"/><stop offset="0.5312" stop-color="#f2f227"/><stop offset="0.5319" stop-color="#f0f921"/><stop offset="0.5924" stop-color="#f0f921"/><stop offset="0.5943" stop-color="#f7e425"/><stop offset="0.5995" stop-color="#fca934"/><stop offset="0.6016" stop-color="#f89540"/><stop offset="0.6048" stop-color="#eb7655"/><stop offset="0.6100" stop-color="#cd4a76"/><stop offset="0.6121" stop-color="#bf3984"/><stop offset="0.6153" stop-color="#b32c8e"/><stop offset="0.6206" stop-color="#9c179e"/><stop offset="0.6258" stop-color="#8305a7"/><stop offset="0.6287" stop-color="#7401a8"/><stop offset="0.6311" stop-color="#6e00a8"/><stop offset="0.6363" stop-color="#6100a7"/><stop offset="0.6416" stop-color="#5502a4"/><stop offset="0.6469" stop-color="#46039f"/><stop offset="0.6490" stop-color="#41049d"/><stop offset="0.6521" stop-color="#3c049b"/><stop offset="0.6574" stop-color="#350498"/><stop offset="0.6626" stop-color="#2e0595"/><stop offset="0.6674" stop-color="#260591"/><stop offset="0.6679" stop-color="#240691"/><stop offset="0.6732" stop-color="#20068f"/><stop offset="0.6784" stop-color="#19068c"/><stop offset="0.6837" stop-color="#130789"/><stop offset="0.6884" stop-color="#0d0887"/><stop offset="1.0000" stop-color="#0d0887"/></linearGradient><linearGradient id="a15" gradientUnits="userSpaceOnUse" x1="0" y1="8.2" x2="0" y2="388.5"><stop offset="0.0000" stop-color="#0d0887"/><stop offset="0.5359" stop-color="#0d0887"/><stop offset="0.5417" stop-color="#20068f"/><stop offset="0.5469" stop-color="#2c0594"/><stop offset="0.5517" stop-color="#370499"/><stop offset="0.5522" stop-color="#38049a"/><stop offset="0.5575" stop-color="#4b03a1"/><stop offset="0.5627" stop-color="#5e01a6"/><stop offset="0.5661" stop-color="#6a00a8"/><stop offset="0.5680" stop-color="#7501a8"/><stop offset="0.5732" stop-color="#9511a1"/><stop offset="0.5753" stop-color="#a11b9b"/><stop offset="0.5785" stop-color="#bf3984"/><stop offset="0.5832" stop-color="#e16462"/><stop offset="0.5837" stop-color="#e56b5d"/><stop offset="0.5877" stop-color="#fca636"/><stop offset="0.5890" stop-color="#febd2a"/><stop offset="0.5924" stop-color="#f0f921"/><stop offset="0.6421" stop-color="#f0f921"/><stop offset="0.6469" stop-color="#fba238"/><stop offset="0.6476" stop-color="#f89540"/><stop offset="0.6521" stop-color="#d7566c"/><stop offset="0.6555" stop-color="#b12a90"/><stop offset="0.6574" stop-color="#a01a9c"/><stop offset="0.6626" stop-color="#6400a7"/><stop offset="0.6663" stop-color="#370499"/><stop offset="0.6679" stop-color="#330597"/><stop offset="0.6732" stop-color="#280592"/><stop offset="0.6779" stop-color="#1d068e"/><stop offset="0.6784" stop-color="#1d068e"/><stop offset="0.6837" stop-color="#19068c"/><stop offset="0.6889" stop-color="#100788"/><stop offset="0.6937" stop-color="#0d0887"/><stop offset="1.0000" stop-color="#0d0887"/></linearGradient><linearGradient id="a16" gradientUnits="userSpaceOnUse" x1="0" y1="8.2" x2="0" y2="388.5"><stop offset="0.0000" stop-color="#0d0887"/><stop offset="0.6661" stop-color="#0d0887"/><stop offset="0.6679" stop-color="#3c049b"/><stop offset="0.6713" stop-color="#7e03a8"/><stop offset="0.6732" stop-color="#c13b82"/><stop offset="0.6753" stop-color="#f2844b"/><stop offset="0.6779" stop-color="#f0f921"/><stop offset="0.7081" stop-color="#f0f921"/><stop offset="0.7100" stop-color="#fdac33"/><stop offset="0.7121" stop-color="#e16462"/><stop offset="0.7152" stop-color="#8808a6"/><stop offset="0.7160" stop-color="#6a00a8"/><stop offset="0.7205" stop-color="#310597"/><stop offset="0.7226" stop-color="#0d0887"/><stop offset="1.0000" stop-color="#0d0887"/></linearGradient><linearGradient id="a17" gradientUnits="userSpaceOnUse" x1="0" y1="8.2" x2="0" y2="388.5"><stop offset="0.0000" stop-color="#0d0887"/><stop offset="0.7681" stop-color="#0d0887"/><stop offset="0.7712" stop-color="#6a00a8"/><stop offset="0.7731" stop-color="#cd4a76"/><stop offset="0.7760" stop-color="#f0f921"/><stop offset="0.7944" stop-color="#f0f921"/><stop offset="0.7991" stop-color="#6a00a8"/><stop offset="0.7994" stop-color="#6300a7"/><stop offset="0.8023" stop-color="#0d0887"/><stop offset="1.0000" stop-color="#0d0887"/></linearGradient><linearGradient id="a18" gradientUnits="userSpaceOnUse" x1="0" y1="8.2" x2="0" y2="388.5"><stop offset="0.0000" stop-color="#0d0887"/><stop offset="0.8825" stop-color="#0d0887"/><stop offset="0.8835" stop-color="#8b0aa5"/><stop offset="0.8861" stop-color="#f0f921"/><stop offset="0.8967" stop-color="#f0f921"/><stop offset="0.8993" stop-color="#8b0aa5"/><stop offset="0.9003" stop-color="#0d0887"/><stop offset="1.0000" stop-color="#0d0887"/></linearGradient><linearGradient id="b0" gradientUnits="userSpaceOnUse" x1="0" y1="8.2" x2="0" y2="388.5"><stop offset="0.0000" stop-color="#0d0887"/><stop offset="0.2019" stop-color="#0d0887"/><stop offset="0.2261" stop-color="#100788"/><stop offset="0.2367" stop-color="#100788"/><stop offset="0.2419" stop-color="#130789"/><stop offset="0.2524" stop-color="#130789"/><stop offset="0.2577" stop-color="#16078a"/><stop offset="0.2735" stop-color="#16078a"/><stop offset="0.2787" stop-color="#19068c"/><stop offset="0.2892" stop-color="#19068c"/><stop offset="0.2940" stop-color="#1b068d"/><stop offset="0.3839" stop-color="#1b068d"/><stop offset="0.3892" stop-color="#1d068e"/><stop offset="0.4838" stop-color="#1d068e"/><stop offset="0.4891" stop-color="#20068f"/><stop offset="0.8625" stop-color="#20068f"/><stop offset="0.8677" stop-color="#1d068e"/><stop offset="0.9361" stop-color="#1d068e"/><stop offset="0.9414" stop-color="#1b068d"/><stop offset="1.0000" stop-color="#1b068d"/></linearGradient><linearGradient id="b1" gradientUnits="userSpaceOnUse" x1="0" y1="8.2" x2="0" y2="388.5"><stop offset="0.0000" stop-color="#0d0887"/><stop offset="0.2019" stop-color="#0d0887"/><stop offset="0.2156" stop-color="#100788"/><stop offset="0.2209" stop-color="#100788"/><stop offset="0.2261" stop-color="#130789"/><stop offset="0.2314" stop-color="#130789"/><stop offset="0.2367" stop-color="#16078a"/><stop offset="0.2419" stop-color="#16078a"/><stop offset="0.2472" stop-color="#19068c"/><stop offset="0.2524" stop-color="#19068c"/><stop offset="0.2577" stop-color="#1b068d"/><stop offset="0.2630" stop-color="#1b068d"/><stop offset="0.2677" stop-color="#1d068e"/><stop offset="0.2787" stop-color="#1d068e"/><stop offset="0.2840" stop-color="#20068f"/><stop offset="0.3103" stop-color="#20068f"/><stop offset="0.3155" stop-color="#220690"/><stop offset="0.3366" stop-color="#220690"/><stop offset="0.3418" stop-color="#240691"/><stop offset="0.4470" stop-color="#240691"/><stop offset="0.4523" stop-color="#260591"/><stop offset="0.4891" stop-color="#260591"/><stop offset="0.4943" stop-color="#280592"/><stop offset="0.5154" stop-color="#280592"/><stop offset="0.5206" stop-color="#2a0593"/><stop offset="0.5364" stop-color="#2a0593"/><stop offset="0.5417" stop-color="#2c0594"/><stop offset="0.5575" stop-color="#2c0594"/><stop offset="0.5596" stop-color="#2e0595"/><stop offset="0.5732" stop-color="#2e0595"/><stop offset="0.5785" stop-color="#2f0596"/><stop offset="0.5943" stop-color="#2f0596"/><stop offset="0.5995" stop-color="#310597"/><stop offset="0.6153" stop-color="#310597"/><stop offset="0.6206" stop-color="#330597"/><stop offset="0.6363" stop-color="#330597"/><stop offset="0.6416" stop-color="#350498"/><stop offset="0.6574" stop-color="#350498"/><stop offset="0.6621" stop-color="#370499"/><stop offset="0.6626" stop-color="#370499"/><stop offset="0.6679" stop-color="#350498"/><stop offset="0.6942" stop-color="#350498"/><stop offset="0.6994" stop-color="#330597"/><stop offset="0.7205" stop-color="#330597"/><stop offset="0.7257" stop-color="#310597"/><stop offset="0.7468" stop-color="#310597"/><stop offset="0.7520" stop-color="#2f0596"/><stop offset="0.7731" stop-color="#2f0596"/><stop offset="0.7783" stop-color="#2e0595"/><stop offset="0.7889" stop-color="#2e0595"/><stop offset="0.7941" stop-color="#2c0594"/><stop offset="0.8046" stop-color="#2c0594"/><stop offset="0.8099" stop-color="#2a0593"/><stop offset="0.8257" stop-color="#2a0593"/><stop offset="0.8309" stop-color="#280592"/><stop offset="0.8414" stop-color="#280592"/><stop offset="0.8467" stop-color="#260591"/><stop offset="0.8572" stop-color="#260591"/><stop offset="0.8625" stop-color="#240691"/><stop offset="0.8730" stop-color="#240691"/><stop offset="0.8783" stop-color="#220690"/><stop offset="0.8888" stop-color="#220690"/><stop offset="0.8940" stop-color="#20068f"/><stop offset="0.9203" stop-color="#20068f"/><stop offset="0.9256" stop-color="#1d068e"/><stop offset="0.9624" stop-color="#1d068e"/><stop offset="0.9677" stop-color="#1b068d"/><stop offset="1.0000" stop-color="#1b068d"/></linearGradient><linearGradient id="b2" gradientUnits="userSpaceOnUse" x1="0" y1="8.2" x2="0" y2="388.5"><stop offset="0.0000" stop-color="#0d0887"/><stop offset="0.2414" stop-color="#0d0887"/><stop offset="0.2945" stop-color="#100788"/><stop offset="0.3208" stop-color="#100788"/><stop offset="0.3261" stop-color="#130789"/><stop offset="0.3629" stop-color="#130789"/><stop offset="0.3681" stop-color="#16078a"/><stop offset="0.4049" stop-color="#16078a"/><stop offset="0.4102" stop-color="#19068c"/><stop offset="0.4418" stop-color="#19068c"/><stop offset="0.4470" stop-color="#1b068d"/><stop offset="0.4575" stop-color="#1b068d"/><stop offset="0.4628" stop-color="#1d068e"/><stop offset="0.4681" stop-color="#20068f"/><stop offset="0.4733" stop-color="#220690"/><stop offset="0.4786" stop-color="#220690"/><stop offset="0.4838" stop-color="#240691"/><stop offset="0.4891" stop-color="#260591"/><stop offset="0.4943" stop-color="#280592"/><stop offset="0.4996" stop-color="#2a0593"/><stop offset="0.5049" stop-color="#2a0593"/><stop offset="0.5101" stop-color="#2c0594"/><stop offset="0.5154" stop-color="#2e0595"/><stop offset="0.5206" stop-color="#2f0596"/><stop offset="0.5227" stop-color="#2f0596"/><stop offset="0.5259" stop-color="#310597"/><stop offset="0.5312" stop-color="#370499"/><stop offset="0.5364" stop-color="#3c049b"/><stop offset="0.5417" stop-color="#3f049c"/><stop offset="0.5469" stop-color="#44039e"/><stop offset="0.5522" stop-color="#48039f"/><stop offset="0.5575" stop-color="#4c02a1"/><stop offset="0.5627" stop-color="#5002a2"/><stop offset="0.5680" stop-color="#5502a4"/><stop offset="0.5701" stop-color="#5601a4"/><stop offset="0.5732" stop-color="#5b01a5"/><stop offset="0.5785" stop-color="#6400a7"/><stop offset="0.5837" stop-color="#6c00a8"/><stop offset="0.5890" stop-color="#7501a8"/><stop offset="0.5943" stop-color="#7d03a8"/><stop offset="0.5948" stop-color="#7e03a8"/><stop offset="0.5995" stop-color="#8606a6"/><stop offset="0.6048" stop-color="#8e0ca4"/><stop offset="0.6100" stop-color="#9613a1"/><stop offset="0.6121" stop-color="#9a169f"/><stop offset="0.6153" stop-color="#9d189d"/><stop offset="0.6206" stop-color="#a11b9b"/><stop offset="0.6253" stop-color="#a51f99"/><stop offset="0.6258" stop-color="#a31e9a"/><stop offset="0.6311" stop-color="#a01a9c"/><stop offset="0.6363" stop-color="#9c179e"/><stop offset="0.6384" stop-color="#9a169f"/><stop offset="0.6416" stop-color="#9613a1"/><stop offset="0.6469" stop-color="#8e0ca4"/><stop offset="0.6516" stop-color="#8707a6"/><stop offset="0.6521" stop-color="#8606a6"/><stop offset="0.6574" stop-color="#8004a8"/><stop offset="0.6621" stop-color="#7a02a8"/><stop offset="0.6626" stop-color="#7801a8"/><stop offset="0.6679" stop-color="#7100a8"/><stop offset="0.6732" stop-color="#6900a8"/><stop offset="0.6784" stop-color="#6100a7"/><stop offset="0.6831" stop-color="#5901a5"/><stop offset="0.6837" stop-color="#5901a5"/><stop offset="0.6889" stop-color="#5302a3"/><stop offset="0.6942" stop-color="#4c02a1"/><stop offset="0.6994" stop-color="#48039f"/><stop offset="0.7042" stop-color="#41049d"/><stop offset="0.7047" stop-color="#41049d"/><stop offset="0.7100" stop-color="#3e049c"/><stop offset="0.7152" stop-color="#38049a"/><stop offset="0.7205" stop-color="#350498"/><stop offset="0.7257" stop-color="#310597"/><stop offset="0.7278" stop-color="#2f0596"/><stop offset="0.7310" stop-color="#2e0595"/><stop offset="0.7363" stop-color="#2c0594"/><stop offset="0.7415" stop-color="#2a0593"/><stop offset="0.7468" stop-color="#280592"/><stop offset="0.7520" stop-color="#260591"/><stop offset="0.7573" stop-color="#240691"/><stop offset="0.7626" stop-color="#220690"/><stop offset="0.7673" stop-color="#20068f"/><stop offset="0.7731" stop-color="#20068f"/><stop offset="0.7783" stop-color="#1d068e"/><stop offset="0.7836" stop-color="#1d068e"/><stop offset="0.7889" stop-color="#1b068d"/><stop offset="0.7941" stop-color="#1b068d"/><stop offset="0.7994" stop-color="#19068c"/><stop offset="0.8046" stop-color="#19068c"/><stop offset="0.8099" stop-color="#16078a"/><stop offset="0.8151" stop-color="#16078a"/><stop offset="0.8199" stop-color="#130789"/><stop offset="0.8309" stop-color="#130789"/><stop offset="0.8362" stop-color="#100788"/><stop offset="0.8414" stop-color="#100788"/><stop offset="0.8725" stop-color="#0d0887"/><stop offset="1.0000" stop-color="#0d0887"/></linearGradient><linearGradient id="b3" gradientUnits="userSpaceOnUse" x1="0" y1="8.2" x2="0" y2="388.5"><stop offset="0.0000" stop-color="#0d0887"/><stop offset="0.2414" stop-color="#0d0887"/><stop offset="0.2892" stop-color="#100788"/><stop offset="0.3050" stop-color="#100788"/><stop offset="0.3103" stop-color="#130789"/><stop offset="0.3418" stop-color="#130789"/><stop offset="0.3471" stop-color="#16078a"/><stop offset="0.3734" stop-color="#16078a"/><stop offset="0.3786" stop-color="#19068c"/><stop offset="0.3839" stop-color="#1b068d"/><stop offset="0.3892" stop-color="#1b068d"/><stop offset="0.3944" stop-color="#1d068e"/><stop offset="0.3997" stop-color="#1d068e"/><stop offset="0.4049" stop-color="#20068f"/><stop offset="0.4102" stop-color="#220690"/><stop offset="0.4155" stop-color="#220690"/><stop offset="0.4207" stop-color="#240691"/><stop offset="0.4260" stop-color="#240691"/><stop offset="0.4312" stop-color="#260591"/><stop offset="0.4365" stop-color="#280592"/><stop offset="0.4418" stop-color="#280592"/><stop offset="0.4470" stop-color="#2a0593"/><stop offset="0.4517" stop-color="#2a0593"/><stop offset="0.4523" stop-color="#2c0594"/><stop offset="0.4575" stop-color="#2f0596"/><stop offset="0.4628" stop-color="#330597"/><stop offset="0.4681" stop-color="#370499"/><stop offset="0.4733" stop-color="#3a049a"/><stop offset="0.4786" stop-color="#3e049c"/><stop offset="0.4838" stop-color="#41049d"/><stop offset="0.4891" stop-color="#44039e"/><stop offset="0.4943" stop-color="#4903a0"/><stop offset="0.4991" stop-color="#4c02a1"/><stop offset="0.4996" stop-color="#4c02a1"/><stop offset="0.5049" stop-color="#5601a4"/><stop offset="0.5101" stop-color="#5e01a6"/><stop offset="0.5154" stop-color="#6700a8"/><stop offset="0.5206" stop-color="#7100a8"/><stop offset="0.5227" stop-color="#7401a8"/><stop offset="0.5259" stop-color="#7a02a8"/><stop offset="0.5312" stop-color="#8405a7"/><stop offset="0.5364" stop-color="#8e0ca4"/><stop offset="0.5377" stop-color="#8f0da4"/><stop offset="0.5417" stop-color="#9e199d"/><stop offset="0.5469" stop-color="#b02991"/><stop offset="0.5472" stop-color="#b12a90"/><stop offset="0.5522" stop-color="#c23c81"/><stop offset="0.5569" stop-color="#d14e72"/><stop offset="0.5575" stop-color="#d24f71"/><stop offset="0.5627" stop-color="#d8576b"/><stop offset="0.5661" stop-color="#dc5d67"/><stop offset="0.5948" stop-color="#dc5d67"/><stop offset="0.5995" stop-color="#d45270"/><stop offset="0.6043" stop-color="#cc4778"/><stop offset="0.6048" stop-color="#c9447a"/><stop offset="0.6100" stop-color="#ab2494"/><stop offset="0.6116" stop-color="#a11b9b"/><stop offset="0.6153" stop-color="#8b0aa5"/><stop offset="0.6187" stop-color="#7401a8"/><stop offset="0.6206" stop-color="#7100a8"/><stop offset="0.6258" stop-color="#6600a7"/><stop offset="0.6311" stop-color="#5b01a5"/><stop offset="0.6363" stop-color="#5002a2"/><stop offset="0.6416" stop-color="#44039e"/><stop offset="0.6427" stop-color="#41049d"/><stop offset="0.6469" stop-color="#3c049b"/><stop offset="0.6521" stop-color="#370499"/><stop offset="0.6574" stop-color="#2f0596"/><stop offset="0.6621" stop-color="#2a0593"/><stop offset="0.6626" stop-color="#2a0593"/><stop offset="0.6679" stop-color="#280592"/><stop offset="0.6732" stop-color="#260591"/><stop offset="0.6784" stop-color="#240691"/><stop offset="0.6837" stop-color="#20068f"/><stop offset="0.6889" stop-color="#1d068e"/><stop offset="0.6942" stop-color="#1b068d"/><stop offset="0.6994" stop-color="#19068c"/><stop offset="0.7016" stop-color="#16078a"/><stop offset="0.7100" stop-color="#16078a"/><stop offset="0.7152" stop-color="#130789"/><stop offset="0.7205" stop-color="#100788"/><stop offset="0.7257" stop-color="#100788"/><stop offset="0.7410" stop-color="#0d0887"/><stop offset="1.0000" stop-color="#0d0887"/></linearGradient><linearGradient id="b4" gradientUnits="userSpaceOnUse" x1="0" y1="8.2" x2="0" y2="388.5"><stop offset="0.0000" stop-color="#0d0887"/><stop offset="0.3203" stop-color="#0d0887"/><stop offset="0.3418" stop-color="#100788"/><stop offset="0.3471" stop-color="#130789"/><stop offset="0.3576" stop-color="#130789"/><stop offset="0.3629" stop-color="#16078a"/><stop offset="0.3681" stop-color="#16078a"/><stop offset="0.3734" stop-color="#19068c"/><stop offset="0.3839" stop-color="#19068c"/><stop offset="0.3860" stop-color="#1b068d"/><stop offset="0.3892" stop-color="#1b068d"/><stop offset="0.3944" stop-color="#1d068e"/><stop offset="0.3997" stop-color="#20068f"/><stop offset="0.4049" stop-color="#220690"/><stop offset="0.4102" stop-color="#240691"/><stop offset="0.4155" stop-color="#260591"/><stop offset="0.4207" stop-color="#280592"/><stop offset="0.4260" stop-color="#280592"/><stop offset="0.4307" stop-color="#2a0593"/><stop offset="0.4312" stop-color="#2c0594"/><stop offset="0.4365" stop-color="#2f0596"/><stop offset="0.4418" stop-color="#330597"/><stop offset="0.4470" stop-color="#370499"/><stop offset="0.4523" stop-color="#3a049a"/><stop offset="0.4575" stop-color="#3e049c"/><stop offset="0.4628" stop-color="#41049d"/><stop offset="0.4681" stop-color="#44039e"/><stop offset="0.4733" stop-color="#4903a0"/><stop offset="0.4780" stop-color="#4c02a1"/><stop offset="0.4786" stop-color="#4c02a1"/><stop offset="0.4838" stop-color="#5502a4"/><stop offset="0.4891" stop-color="#5e01a6"/><stop offset="0.4943" stop-color="#6600a7"/><stop offset="0.4991" stop-color="#6e00a8"/><stop offset="0.4996" stop-color="#6f00a8"/><stop offset="0.5049" stop-color="#7a02a8"/><stop offset="0.5101" stop-color="#8606a6"/><stop offset="0.5154" stop-color="#8f0da4"/><stop offset="0.5206" stop-color="#9a169f"/><stop offset="0.5227" stop-color="#9e199d"/><stop offset="0.5259" stop-color="#a21d9a"/><stop offset="0.5312" stop-color="#aa2395"/><stop offset="0.5364" stop-color="#b12a90"/><stop offset="0.5417" stop-color="#b7318a"/><stop offset="0.5469" stop-color="#be3885"/><stop offset="0.5472" stop-color="#bf3984"/><stop offset="0.5522" stop-color="#c23c81"/><stop offset="0.5575" stop-color="#c6417d"/><stop offset="0.5627" stop-color="#c9447a"/><stop offset="0.5680" stop-color="#cc4977"/><stop offset="0.5701" stop-color="#cd4a76"/><stop offset="0.5943" stop-color="#cd4a76"/><stop offset="0.5995" stop-color="#c9447a"/><stop offset="0.6048" stop-color="#c43e7f"/><stop offset="0.6100" stop-color="#c03a83"/><stop offset="0.6153" stop-color="#bb3488"/><stop offset="0.6187" stop-color="#b7318a"/><stop offset="0.6206" stop-color="#b52f8c"/><stop offset="0.6258" stop-color="#ad2793"/><stop offset="0.6311" stop-color="#a51f99"/><stop offset="0.6363" stop-color="#9c179e"/><stop offset="0.6416" stop-color="#920fa3"/><stop offset="0.6427" stop-color="#8f0da4"/><stop offset="0.6469" stop-color="#8a09a5"/><stop offset="0.6521" stop-color="#8305a7"/><stop offset="0.6574" stop-color="#7b02a8"/><stop offset="0.6621" stop-color="#7401a8"/><stop offset="0.6626" stop-color="#7401a8"/><stop offset="0.6679" stop-color="#6c00a8"/><stop offset="0.6732" stop-color="#6400a7"/><stop offset="0.6784" stop-color="#5e01a6"/><stop offset="0.6837" stop-color="#5601a4"/><stop offset="0.6884" stop-color="#5002a2"/><stop offset="0.6889" stop-color="#5002a2"/><stop offset="0.6942" stop-color="#4b03a1"/><stop offset="0.6994" stop-color="#46039f"/><stop offset="0.7047" stop-color="#41049d"/><stop offset="0.7100" stop-color="#3a049a"/><stop offset="0.7147" stop-color="#370499"/><stop offset="0.7152" stop-color="#370499"/><stop offset="0.7205" stop-color="#330597"/><stop offset="0.7257" stop-color="#310597"/><stop offset="0.7310" stop-color="#2f0596"/><stop offset="0.7363" stop-color="#2e0595"/><stop offset="0.7415" stop-color="#2a0593"/><stop offset="0.7468" stop-color="#280592"/><stop offset="0.7520" stop-color="#260591"/><stop offset="0.7573" stop-color="#240691"/><stop offset="0.7626" stop-color="#220690"/><stop offset="0.7678" stop-color="#1d068e"/><stop offset="0.7699" stop-color="#1d068e"/><stop offset="0.7731" stop-color="#1b068d"/><stop offset="0.7783" stop-color="#1b068d"/><stop offset="0.7836" stop-color="#19068c"/><stop offset="0.7889" stop-color="#16078a"/><stop offset="0.7941" stop-color="#16078a"/><stop offset="0.7994" stop-color="#130789"/><stop offset="0.8046" stop-color="#100788"/><stop offset="0.8099" stop-color="#100788"/><stop offset="0.8199" stop-color="#0d0887"/><stop offset="1.0000" stop-color="#0d0887"/></linearGradient><linearGradient id="b5" gradientUnits="userSpaceOnUse" x1="0" y1="8.2" x2="0" y2="388.5"><stop offset="0.0000" stop-color="#0d0887"/><stop offset="0.3203" stop-color="#0d0887"/><stop offset="0.3576" stop-color="#100788"/><stop offset="0.3681" stop-color="#100788"/><stop offset="0.3734" stop-color="#130789"/><stop offset="0.3944" stop-color="#130789"/><stop offset="0.3997" stop-color="#16078a"/><stop offset="0.4207" stop-color="#16078a"/><stop offset="0.4260" stop-color="#19068c"/><stop offset="0.4470" stop-color="#19068c"/><stop offset="0.4517" stop-color="#1b068d"/><stop offset="0.4575" stop-color="#1b068d"/><stop offset="0.4628" stop-color="#1d068e"/><stop offset="0.4681" stop-color="#20068f"/><stop offset="0.4733" stop-color="#220690"/><stop offset="0.4786" stop-color="#240691"/><stop offset="0.4838" stop-color="#240691"/><stop offset="0.4891" stop-color="#260591"/><stop offset="0.4943" stop-color="#280592"/><stop offset="0.4996" stop-color="#2a0593"/><stop offset="0.5049" stop-color="#2a0593"/><stop offset="0.5101" stop-color="#2e0595"/><stop offset="0.5154" stop-color="#310597"/><stop offset="0.5206" stop-color="#350498"/><stop offset="0.5227" stop-color="#370499"/><stop offset="0.5259" stop-color="#3a049a"/><stop offset="0.5312" stop-color="#43039e"/><stop offset="0.5364" stop-color="#4903a0"/><stop offset="0.5417" stop-color="#5002a2"/><stop offset="0.5464" stop-color="#5601a4"/><stop offset="0.5469" stop-color="#5901a5"/><stop offset="0.5522" stop-color="#7501a8"/><stop offset="0.5575" stop-color="#8f0da4"/><stop offset="0.5614" stop-color="#a11b9b"/><stop offset="0.5627" stop-color="#b02991"/><stop offset="0.5680" stop-color="#db5c68"/><stop offset="0.5688" stop-color="#e16462"/><stop offset="0.5732" stop-color="#ed7953"/><stop offset="0.5785" stop-color="#f79342"/><stop offset="0.5806" stop-color="#fa9e3b"/><stop offset="0.5837" stop-color="#fba238"/><stop offset="0.5890" stop-color="#fca835"/><stop offset="0.5943" stop-color="#fdaf31"/><stop offset="0.5948" stop-color="#fdb130"/><stop offset="0.6140" stop-color="#fdb130"/><stop offset="0.6153" stop-color="#fca835"/><stop offset="0.6206" stop-color="#f58c46"/><stop offset="0.6253" stop-color="#ea7457"/><stop offset="0.6258" stop-color="#e76f5a"/><stop offset="0.6311" stop-color="#c33d80"/><stop offset="0.6332" stop-color="#b12a90"/><stop offset="0.6363" stop-color="#a11b9b"/><stop offset="0.6416" stop-color="#8405a7"/><stop offset="0.6427" stop-color="#7e03a8"/><stop offset="0.6469" stop-color="#7401a8"/><stop offset="0.6521" stop-color="#6600a7"/><stop offset="0.6574" stop-color="#5801a4"/><stop offset="0.6621" stop-color="#4c02a1"/><stop offset="0.6626" stop-color="#4b03a1"/><stop offset="0.6679" stop-color="#43039e"/><stop offset="0.6732" stop-color="#38049a"/><stop offset="0.6784" stop-color="#2f0596"/><stop offset="0.6831" stop-color="#260591"/><stop offset="0.6837" stop-color="#260591"/><stop offset="0.6889" stop-color="#220690"/><stop offset="0.6942" stop-color="#1d068e"/><stop offset="0.6994" stop-color="#19068c"/><stop offset="0.7047" stop-color="#16078a"/><stop offset="0.7100" stop-color="#100788"/><stop offset="0.7147" stop-color="#0d0887"/><stop offset="1.0000" stop-color="#0d0887"/></linearGradient><linearGradient id="b6" gradientUnits="userSpaceOnUse" x1="0" y1="8.2" x2="0" y2="388.5"><stop offset="0.0000" stop-color="#0d0887"/><stop offset="0.5701" stop-color="#0d0887"/><stop offset="0.5732" stop-color="#130789"/><stop offset="0.5785" stop-color="#1d068e"/><stop offset="0.5837" stop-color="#260591"/><stop offset="0.5890" stop-color="#2e0595"/><stop offset="0.5943" stop-color="#350498"/><stop offset="0.5948" stop-color="#370499"/><stop offset="0.5995" stop-color="#48039f"/><stop offset="0.6048" stop-color="#5901a5"/><stop offset="0.6095" stop-color="#6a00a8"/><stop offset="0.6100" stop-color="#6e00a8"/><stop offset="0.6153" stop-color="#8e0ca4"/><stop offset="0.6187" stop-color="#a11b9b"/><stop offset="0.6206" stop-color="#b22b8f"/><stop offset="0.6253" stop-color="#d6556d"/><stop offset="0.6258" stop-color="#da5a6a"/><stop offset="0.6311" stop-color="#f1834c"/><stop offset="0.6332" stop-color="#f89540"/><stop offset="0.6363" stop-color="#fca636"/><stop offset="0.6416" stop-color="#fdc827"/><stop offset="0.6427" stop-color="#fcce25"/><stop offset="0.6469" stop-color="#fad824"/><stop offset="0.6516" stop-color="#f7e425"/><stop offset="0.6521" stop-color="#f7e225"/><stop offset="0.6574" stop-color="#f8df25"/><stop offset="0.6626" stop-color="#fada24"/><stop offset="0.6632" stop-color="#fad824"/><stop offset="0.6679" stop-color="#fca835"/><stop offset="0.6700" stop-color="#f89540"/><stop offset="0.6732" stop-color="#e76e5b"/><stop offset="0.6766" stop-color="#cc4778"/><stop offset="0.6784" stop-color="#bd3786"/><stop offset="0.6837" stop-color="#8a09a5"/><stop offset="0.6847" stop-color="#7e03a8"/><stop offset="0.6889" stop-color="#6900a8"/><stop offset="0.6942" stop-color="#4c02a1"/><stop offset="0.6963" stop-color="#41049d"/><stop offset="0.6994" stop-color="#3a049a"/><stop offset="0.7047" stop-color="#2f0596"/><stop offset="0.7100" stop-color="#240691"/><stop offset="0.7147" stop-color="#16078a"/><stop offset="0.7152" stop-color="#16078a"/><stop offset="0.7205" stop-color="#100788"/><stop offset="0.7252" stop-color="#0d0887"/><stop offset="1.0000" stop-color="#0d0887"/></linearGradient><linearGradient id="b7" gradientUnits="userSpaceOnUse" x1="0" y1="8.2" x2="0" y2="388.5"><stop offset="0.0000" stop-color="#0d0887"/><stop offset="0.1888" stop-color="#0d0887"/><stop offset="0.2104" stop-color="#100788"/><stop offset="0.2156" stop-color="#100788"/><stop offset="0.2209" stop-color="#130789"/><stop offset="0.2261" stop-color="#130789"/><stop offset="0.2314" stop-color="#16078a"/><stop offset="0.2419" stop-color="#16078a"/><stop offset="0.2472" stop-color="#19068c"/><stop offset="0.2524" stop-color="#1b068d"/><stop offset="0.2577" stop-color="#1b068d"/><stop offset="0.2630" stop-color="#1d068e"/><stop offset="0.2682" stop-color="#20068f"/><stop offset="0.2735" stop-color="#220690"/><stop offset="0.2808" stop-color="#220690"/><stop offset="0.2840" stop-color="#240691"/><stop offset="0.2892" stop-color="#260591"/><stop offset="0.2945" stop-color="#260591"/><stop offset="0.2998" stop-color="#280592"/><stop offset="0.3050" stop-color="#2a0593"/><stop offset="0.3103" stop-color="#2c0594"/><stop offset="0.3155" stop-color="#2c0594"/><stop offset="0.3208" stop-color="#2e0595"/><stop offset="0.3261" stop-color="#2f0596"/><stop offset="0.3313" stop-color="#2f0596"/><stop offset="0.3361" stop-color="#310597"/><stop offset="0.3366" stop-color="#310597"/><stop offset="0.3418" stop-color="#350498"/><stop offset="0.3471" stop-color="#370499"/><stop offset="0.3524" stop-color="#3a049a"/><stop offset="0.3576" stop-color="#3c049b"/><stop offset="0.3629" stop-color="#3f049c"/><stop offset="0.3681" stop-color="#41049d"/><stop offset="0.3729" stop-color="#43039e"/><stop offset="0.3734" stop-color="#43039e"/><stop offset="0.3786" stop-color="#44039e"/><stop offset="0.3839" stop-color="#44039e"/><stop offset="0.3892" stop-color="#46039f"/><stop offset="0.3944" stop-color="#46039f"/><stop offset="0.3997" stop-color="#48039f"/><stop offset="0.4049" stop-color="#48039f"/><stop offset="0.4102" stop-color="#4903a0"/><stop offset="0.4155" stop-color="#4903a0"/><stop offset="0.4202" stop-color="#4b03a1"/><stop offset="0.4207" stop-color="#4b03a1"/><stop offset="0.4260" stop-color="#4903a0"/><stop offset="0.4312" stop-color="#4903a0"/><stop offset="0.4365" stop-color="#48039f"/><stop offset="0.4418" stop-color="#46039f"/><stop offset="0.4470" stop-color="#46039f"/><stop offset="0.4523" stop-color="#44039e"/><stop offset="0.4575" stop-color="#43039e"/><stop offset="0.4628" stop-color="#43039e"/><stop offset="0.4675" stop-color="#41049d"/><stop offset="0.4681" stop-color="#41049d"/><stop offset="0.4733" stop-color="#3f049c"/><stop offset="0.4786" stop-color="#3e049c"/><stop offset="0.4838" stop-color="#3c049b"/><stop offset="0.4891" stop-color="#3a049a"/><stop offset="0.4943" stop-color="#38049a"/><stop offset="0.4996" stop-color="#370499"/><stop offset="0.5049" stop-color="#350498"/><stop offset="0.5101" stop-color="#330597"/><stop offset="0.5154" stop-color="#310597"/><stop offset="0.5206" stop-color="#310597"/><stop offset="0.5259" stop-color="#2f0596"/><stop offset="0.5364" stop-color="#2f0596"/><stop offset="0.5417" stop-color="#2e0595"/><stop offset="0.5469" stop-color="#2e0595"/><stop offset="0.5522" stop-color="#2c0594"/><stop offset="0.5627" stop-color="#2c0594"/><stop offset="0.5680" stop-color="#2a0593"/><stop offset="0.5732" stop-color="#2a0593"/><stop offset="0.5785" stop-color="#280592"/><stop offset="0.6100" stop-color="#280592"/><stop offset="0.6153" stop-color="#260591"/><stop offset="0.6626" stop-color="#260591"/><stop offset="0.6679" stop-color="#2a0593"/><stop offset="0.6732" stop-color="#2e0595"/><stop offset="0.6784" stop-color="#330597"/><stop offset="0.6831" stop-color="#370499"/><stop offset="0.6837" stop-color="#370499"/><stop offset="0.6889" stop-color="#3f049c"/><stop offset="0.6942" stop-color="#48039f"/><stop offset="0.6963" stop-color="#4c02a1"/><stop offset="0.6994" stop-color="#5601a4"/><stop offset="0.7047" stop-color="#6900a8"/><stop offset="0.7100" stop-color="#7a02a8"/><stop offset="0.7110" stop-color="#7e03a8"/><stop offset="0.7152" stop-color="#a01a9c"/><stop offset="0.7200" stop-color="#bf3984"/><stop offset="0.7205" stop-color="#c13b82"/><stop offset="0.7257" stop-color="#da5a6a"/><stop offset="0.7302" stop-color="#ea7457"/><stop offset="0.7310" stop-color="#ed7953"/><stop offset="0.7363" stop-color="#fb9f3a"/><stop offset="0.7397" stop-color="#feba2c"/><stop offset="0.7415" stop-color="#fdc627"/><stop offset="0.7468" stop-color="#f4ed27"/><stop offset="0.7476" stop-color="#f1f426"/><stop offset="0.7520" stop-color="#f0f724"/><stop offset="0.7541" stop-color="#f0f921"/><stop offset="0.7573" stop-color="#f0f724"/><stop offset="0.7610" stop-color="#f1f426"/><stop offset="0.7626" stop-color="#f6e626"/><stop offset="0.7678" stop-color="#febb2b"/><stop offset="0.7707" stop-color="#fca636"/><stop offset="0.7731" stop-color="#f2844b"/><stop offset="0.7778" stop-color="#cc4778"/><stop offset="0.7783" stop-color="#c7427c"/><stop offset="0.7836" stop-color="#8e0ca4"/><stop offset="0.7849" stop-color="#7e03a8"/><stop offset="0.7889" stop-color="#6900a8"/><stop offset="0.7941" stop-color="#4c02a1"/><stop offset="0.7962" stop-color="#41049d"/><stop offset="0.7994" stop-color="#3c049b"/><stop offset="0.8046" stop-color="#330597"/><stop offset="0.8099" stop-color="#2a0593"/><stop offset="0.8151" stop-color="#20068f"/><stop offset="0.8159" stop-color="#1d068e"/><stop offset="0.8204" stop-color="#19068c"/><stop offset="0.8257" stop-color="#130789"/><stop offset="0.8304" stop-color="#0d0887"/><stop offset="1.0000" stop-color="#0d0887"/></linearGradient><linearGradient id="b8" gradientUnits="userSpaceOnUse" x1="0" y1="8.2" x2="0" y2="388.5"><stop offset="0.0000" stop-color="#0d0887"/><stop offset="0.1888" stop-color="#0d0887"/><stop offset="0.2261" stop-color="#100788"/><stop offset="0.2419" stop-color="#100788"/><stop offset="0.2472" stop-color="#130789"/><stop offset="0.2682" stop-color="#130789"/><stop offset="0.2735" stop-color="#16078a"/><stop offset="0.2945" stop-color="#16078a"/><stop offset="0.2998" stop-color="#19068c"/><stop offset="0.3103" stop-color="#19068c"/><stop offset="0.3155" stop-color="#1b068d"/><stop offset="0.3261" stop-color="#1b068d"/><stop offset="0.3313" stop-color="#1d068e"/><stop offset="0.3418" stop-color="#1d068e"/><stop offset="0.3471" stop-color="#20068f"/><stop offset="0.3576" stop-color="#20068f"/><stop offset="0.3629" stop-color="#220690"/><stop offset="0.3729" stop-color="#220690"/><stop offset="0.3734" stop-color="#240691"/><stop offset="0.3839" stop-color="#240691"/><stop offset="0.3892" stop-color="#260591"/><stop offset="0.3944" stop-color="#260591"/><stop offset="0.3997" stop-color="#280592"/><stop offset="0.4049" stop-color="#280592"/><stop offset="0.4102" stop-color="#2a0593"/><stop offset="0.4155" stop-color="#2a0593"/><stop offset="0.4207" stop-color="#2c0594"/><stop offset="0.4260" stop-color="#2c0594"/><stop offset="0.4312" stop-color="#2e0595"/><stop offset="0.4365" stop-color="#2e0595"/><stop offset="0.4418" stop-color="#2f0596"/><stop offset="0.4439" stop-color="#2f0596"/><stop offset="0.4470" stop-color="#310597"/><stop offset="0.4523" stop-color="#370499"/><stop offset="0.4575" stop-color="#3a049a"/><stop offset="0.4628" stop-color="#3e049c"/><stop offset="0.4675" stop-color="#41049d"/><stop offset="0.4681" stop-color="#41049d"/><stop offset="0.4733" stop-color="#46039f"/><stop offset="0.4786" stop-color="#4b03a1"/><stop offset="0.4838" stop-color="#5002a2"/><stop offset="0.4891" stop-color="#5502a4"/><stop offset="0.4912" stop-color="#5601a4"/><stop offset="0.4943" stop-color="#5901a5"/><stop offset="0.4996" stop-color="#5c01a6"/><stop offset="0.5049" stop-color="#6100a7"/><stop offset="0.5101" stop-color="#6600a7"/><stop offset="0.5154" stop-color="#6900a8"/><stop offset="0.5162" stop-color="#6a00a8"/><stop offset="0.5206" stop-color="#6e00a8"/><stop offset="0.5259" stop-color="#7201a8"/><stop offset="0.5312" stop-color="#7701a8"/><stop offset="0.5364" stop-color="#7b02a8"/><stop offset="0.5398" stop-color="#7e03a8"/><stop offset="0.5417" stop-color="#7e03a8"/><stop offset="0.5469" stop-color="#8004a8"/><stop offset="0.5522" stop-color="#8104a7"/><stop offset="0.5575" stop-color="#8305a7"/><stop offset="0.5627" stop-color="#8405a7"/><stop offset="0.5680" stop-color="#8606a6"/><stop offset="0.5701" stop-color="#8707a6"/><stop offset="0.5732" stop-color="#8606a6"/><stop offset="0.5785" stop-color="#8405a7"/><stop offset="0.5837" stop-color="#8104a7"/><stop offset="0.5890" stop-color="#8004a8"/><stop offset="0.5943" stop-color="#7e03a8"/><stop offset="0.5948" stop-color="#7e03a8"/><stop offset="0.5995" stop-color="#7801a8"/><stop offset="0.6048" stop-color="#7401a8"/><stop offset="0.6100" stop-color="#6e00a8"/><stop offset="0.6153" stop-color="#6700a8"/><stop offset="0.6206" stop-color="#6300a7"/><stop offset="0.6227" stop-color="#6001a6"/><stop offset="0.6258" stop-color="#5e01a6"/><stop offset="0.6311" stop-color="#5901a5"/><stop offset="0.6363" stop-color="#5502a4"/><stop offset="0.6416" stop-color="#5102a3"/><stop offset="0.6427" stop-color="#5002a2"/><stop offset="0.6469" stop-color="#4c02a1"/><stop offset="0.6521" stop-color="#4903a0"/><stop offset="0.6574" stop-color="#44039e"/><stop offset="0.6621" stop-color="#41049d"/><stop offset="0.6626" stop-color="#41049d"/><stop offset="0.6679" stop-color="#3f049c"/><stop offset="0.6732" stop-color="#3e049c"/><stop offset="0.6784" stop-color="#3a049a"/><stop offset="0.6837" stop-color="#38049a"/><stop offset="0.6889" stop-color="#370499"/><stop offset="0.6942" stop-color="#350498"/><stop offset="0.6963" stop-color="#330597"/><stop offset="0.7100" stop-color="#330597"/><stop offset="0.7152" stop-color="#310597"/><stop offset="0.7310" stop-color="#310597"/><stop offset="0.7363" stop-color="#2f0596"/><stop offset="0.7520" stop-color="#2f0596"/><stop offset="0.7573" stop-color="#310597"/><stop offset="0.7731" stop-color="#310597"/><stop offset="0.7783" stop-color="#330597"/><stop offset="0.7920" stop-color="#330597"/><stop offset="0.7941" stop-color="#38049a"/><stop offset="0.7994" stop-color="#41049d"/><stop offset="0.8046" stop-color="#4b03a1"/><stop offset="0.8099" stop-color="#5302a3"/><stop offset="0.8112" stop-color="#5601a4"/><stop offset="0.8151" stop-color="#6a00a8"/><stop offset="0.8204" stop-color="#8606a6"/><stop offset="0.8225" stop-color="#8f0da4"/><stop offset="0.8257" stop-color="#a51f99"/><stop offset="0.8309" stop-color="#c13b82"/><stop offset="0.8330" stop-color="#cc4778"/><stop offset="0.8362" stop-color="#e4695e"/><stop offset="0.8399" stop-color="#f89540"/><stop offset="0.8414" stop-color="#fca537"/><stop offset="0.8467" stop-color="#f8e125"/><stop offset="0.8470" stop-color="#f7e425"/><stop offset="0.8501" stop-color="#f0f921"/><stop offset="0.8730" stop-color="#f0f921"/><stop offset="0.8783" stop-color="#f2844b"/><stop offset="0.8835" stop-color="#a21d9a"/><stop offset="0.8843" stop-color="#8f0da4"/><stop offset="0.8888" stop-color="#6300a7"/><stop offset="0.8909" stop-color="#4c02a1"/><stop offset="0.8940" stop-color="#3a049a"/><stop offset="0.8988" stop-color="#1d068e"/><stop offset="0.8993" stop-color="#1b068d"/><stop offset="0.9040" stop-color="#0d0887"/><stop offset="1.0000" stop-color="#0d0887"/></linearGradient><linearGradient id="b9" gradientUnits="userSpaceOnUse" x1="0" y1="8.2" x2="0" y2="388.5"><stop offset="0.0000" stop-color="#0d0887"/><stop offset="0.1415" stop-color="#0d0887"/><stop offset="0.1630" stop-color="#100788"/><stop offset="0.1683" stop-color="#100788"/><stop offset="0.1735" stop-color="#130789"/><stop offset="0.1788" stop-color="#130789"/><stop offset="0.1841" stop-color="#16078a"/><stop offset="0.1946" stop-color="#16078a"/><stop offset="0.1998" stop-color="#19068c"/><stop offset="0.2051" stop-color="#19068c"/><stop offset="0.2104" stop-color="#1b068d"/><stop offset="0.2209" stop-color="#1b068d"/><stop offset="0.2261" stop-color="#1d068e"/><stop offset="0.2314" stop-color="#1d068e"/><stop offset="0.2367" stop-color="#20068f"/><stop offset="0.2419" stop-color="#20068f"/><stop offset="0.2472" stop-color="#220690"/><stop offset="0.2524" stop-color="#240691"/><stop offset="0.2577" stop-color="#240691"/><stop offset="0.2630" stop-color="#260591"/><stop offset="0.2682" stop-color="#260591"/><stop offset="0.2735" stop-color="#280592"/><stop offset="0.2787" stop-color="#2a0593"/><stop offset="0.2840" stop-color="#2a0593"/><stop offset="0.2892" stop-color="#2c0594"/><stop offset="0.2945" stop-color="#2c0594"/><stop offset="0.2998" stop-color="#2e0595"/><stop offset="0.3050" stop-color="#2e0595"/><stop offset="0.3103" stop-color="#2f0596"/><stop offset="0.3155" stop-color="#310597"/><stop offset="0.3208" stop-color="#310597"/><stop offset="0.3261" stop-color="#330597"/><stop offset="0.3313" stop-color="#330597"/><stop offset="0.3366" stop-color="#350498"/><stop offset="0.3418" stop-color="#370499"/><stop offset="0.3471" stop-color="#370499"/><stop offset="0.3524" stop-color="#38049a"/><stop offset="0.3576" stop-color="#38049a"/><stop offset="0.3629" stop-color="#3a049a"/><stop offset="0.3681" stop-color="#3a049a"/><stop offset="0.3729" stop-color="#3c049b"/><stop offset="0.4681" stop-color="#3c049b"/><stop offset="0.4733" stop-color="#3a049a"/><stop offset="0.4786" stop-color="#3a049a"/><stop offset="0.4838" stop-color="#38049a"/><stop offset="0.4943" stop-color="#38049a"/><stop offset="0.4996" stop-color="#370499"/><stop offset="0.5049" stop-color="#370499"/><stop offset="0.5101" stop-color="#350498"/><stop offset="0.5206" stop-color="#350498"/><stop offset="0.5259" stop-color="#330597"/><stop offset="0.5417" stop-color="#330597"/><stop offset="0.5469" stop-color="#310597"/><stop offset="0.5575" stop-color="#310597"/><stop offset="0.5627" stop-color="#2f0596"/><stop offset="0.5732" stop-color="#2f0596"/><stop offset="0.5785" stop-color="#2e0595"/><stop offset="0.6490" stop-color="#2e0595"/><stop offset="0.6521" stop-color="#2f0596"/><stop offset="0.6574" stop-color="#330597"/><stop offset="0.6626" stop-color="#370499"/><stop offset="0.6679" stop-color="#3a049a"/><stop offset="0.6732" stop-color="#3e049c"/><stop offset="0.6779" stop-color="#41049d"/><stop offset="0.6784" stop-color="#43039e"/><stop offset="0.6837" stop-color="#4e02a2"/><stop offset="0.6889" stop-color="#5901a5"/><stop offset="0.6942" stop-color="#6600a7"/><stop offset="0.6963" stop-color="#6a00a8"/><stop offset="0.6994" stop-color="#7201a8"/><stop offset="0.7047" stop-color="#8004a8"/><stop offset="0.7100" stop-color="#8d0ba5"/><stop offset="0.7110" stop-color="#8f0da4"/><stop offset="0.7152" stop-color="#a01a9c"/><stop offset="0.7205" stop-color="#b12a90"/><stop offset="0.7252" stop-color="#bf3984"/><stop offset="0.7257" stop-color="#c03a83"/><stop offset="0.7310" stop-color="#cd4a76"/><stop offset="0.7363" stop-color="#da5a6a"/><stop offset="0.7373" stop-color="#dc5d67"/><stop offset="0.7415" stop-color="#e4695e"/><stop offset="0.7444" stop-color="#e87059"/><stop offset="0.7725" stop-color="#e87059"/><stop offset="0.7731" stop-color="#e76e5b"/><stop offset="0.7783" stop-color="#d9586a"/><stop offset="0.7825" stop-color="#cc4778"/><stop offset="0.7836" stop-color="#c6417d"/><stop offset="0.7889" stop-color="#a62098"/><stop offset="0.7920" stop-color="#8f0da4"/><stop offset="0.7941" stop-color="#8808a6"/><stop offset="0.7994" stop-color="#7401a8"/><stop offset="0.8046" stop-color="#5e01a6"/><stop offset="0.8067" stop-color="#5601a4"/><stop offset="0.8099" stop-color="#5102a3"/><stop offset="0.8151" stop-color="#4903a0"/><stop offset="0.8204" stop-color="#41049d"/><stop offset="0.8257" stop-color="#370499"/><stop offset="0.8304" stop-color="#2f0596"/><stop offset="0.8309" stop-color="#2f0596"/><stop offset="0.8362" stop-color="#2c0594"/><stop offset="0.8414" stop-color="#2a0593"/><stop offset="0.8467" stop-color="#280592"/><stop offset="0.8520" stop-color="#260591"/><stop offset="0.8572" stop-color="#220690"/><stop offset="0.8625" stop-color="#20068f"/><stop offset="0.8677" stop-color="#1d068e"/><stop offset="0.8725" stop-color="#1b068d"/><stop offset="0.8730" stop-color="#1b068d"/><stop offset="0.8783" stop-color="#19068c"/><stop offset="0.8835" stop-color="#16078a"/><stop offset="0.8888" stop-color="#16078a"/><stop offset="0.8940" stop-color="#130789"/><stop offset="0.8993" stop-color="#100788"/><stop offset="0.9119" stop-color="#0d0887"/><stop offset="0.9666" stop-color="#0d0887"/><stop offset="0.9677" stop-color="#cb4679"/><stop offset="0.9687" stop-color="#f0f921"/><stop offset="0.9740" stop-color="#f0f921"/><stop offset="0.9761" stop-color="#0d0887"/><stop offset="1.0000" stop-color="#0d0887"/></linearGradient><linearGradient id="b10" gradientUnits="userSpaceOnUse" x1="0" y1="8.2" x2="0" y2="388.5"><stop offset="0.0000" stop-color="#0d0887"/><stop offset="0.1888" stop-color="#0d0887"/><stop offset="0.2261" stop-color="#100788"/><stop offset="0.2419" stop-color="#100788"/><stop offset="0.2472" stop-color="#130789"/><stop offset="0.2682" stop-color="#130789"/><stop offset="0.2735" stop-color="#16078a"/><stop offset="0.2945" stop-color="#16078a"/><stop offset="0.2998" stop-color="#19068c"/><stop offset="0.3103" stop-color="#19068c"/><stop offset="0.3155" stop-color="#1b068d"/><stop offset="0.3261" stop-color="#1b068d"/><stop offset="0.3313" stop-color="#1d068e"/><stop offset="0.3418" stop-color="#1d068e"/><stop offset="0.3471" stop-color="#20068f"/><stop offset="0.3576" stop-color="#20068f"/><stop offset="0.3629" stop-color="#220690"/><stop offset="0.3729" stop-color="#220690"/><stop offset="0.3734" stop-color="#240691"/><stop offset="0.3839" stop-color="#240691"/><stop offset="0.3892" stop-color="#260591"/><stop offset="0.3944" stop-color="#260591"/><stop offset="0.3997" stop-color="#280592"/><stop offset="0.4049" stop-color="#280592"/><stop offset="0.4102" stop-color="#2a0593"/><stop offset="0.4155" stop-color="#2a0593"/><stop offset="0.4207" stop-color="#2c0594"/><stop offset="0.4260" stop-color="#2c0594"/><stop offset="0.4312" stop-color="#2e0595"/><stop offset="0.4365" stop-color="#2e0595"/><stop offset="0.4418" stop-color="#2f0596"/><stop offset="0.4439" stop-color="#2f0596"/><stop offset="0.4470" stop-color="#310597"/><stop offset="0.4523" stop-color="#370499"/><stop offset="0.4575" stop-color="#3a049a"/><stop offset="0.4628" stop-color="#3e049c"/><stop offset="0.4675" stop-color="#41049d"/><stop offset="0.4681" stop-color="#41049d"/><stop offset="0.4733" stop-color="#46039f"/><stop offset="0.4786" stop-color="#4b03a1"/><stop offset="0.4838" stop-color="#5002a2"/><stop offset="0.4891" stop-color="#5502a4"/><stop offset="0.4912" stop-color="#5601a4"/><stop offset="0.4943" stop-color="#5901a5"/><stop offset="0.4996" stop-color="#5c01a6"/><stop offset="0.5049" stop-color="#6100a7"/><stop offset="0.5101" stop-color="#6600a7"/><stop offset="0.5154" stop-color="#6900a8"/><stop offset="0.5162" stop-color="#6a00a8"/><stop offset="0.5206" stop-color="#6e00a8"/><stop offset="0.5259" stop-color="#7201a8"/><stop offset="0.5312" stop-color="#7701a8"/><stop offset="0.5364" stop-color="#7b02a8"/><stop offset="0.5398" stop-color="#7e03a8"/><stop offset="0.5417" stop-color="#7e03a8"/><stop offset="0.5469" stop-color="#8004a8"/><stop offset="0.5522" stop-color="#8104a7"/><stop offset="0.5575" stop-color="#8305a7"/><stop offset="0.5627" stop-color="#8405a7"/><stop offset="0.5680" stop-color="#8606a6"/><stop offset="0.5701" stop-color="#8707a6"/><stop offset="0.5732" stop-color="#8606a6"/><stop offset="0.5785" stop-color="#8405a7"/><stop offset="0.5837" stop-color="#8104a7"/><stop offset="0.5890" stop-color="#8004a8"/><stop offset="0.5943" stop-color="#7e03a8"/><stop offset="0.5948" stop-color="#7e03a8"/><stop offset="0.5995" stop-color="#7801a8"/><stop offset="0.6048" stop-color="#7401a8"/><stop offset="0.6100" stop-color="#6e00a8"/><stop offset="0.6153" stop-color="#6700a8"/><stop offset="0.6206" stop-color="#6300a7"/><stop offset="0.6227" stop-color="#6001a6"/><stop offset="0.6258" stop-color="#5e01a6"/><stop offset="0.6311" stop-color="#5901a5"/><stop offset="0.6363" stop-color="#5502a4"/><stop offset="0.6416" stop-color="#5102a3"/><stop offset="0.6427" stop-color="#5002a2"/><stop offset="0.6469" stop-color="#4c02a1"/><stop offset="0.6521" stop-color="#4903a0"/><stop offset="0.6574" stop-color="#44039e"/><stop offset="0.6621" stop-color="#41049d"/><stop offset="0.6626" stop-color="#41049d"/><stop offset="0.6679" stop-color="#3f049c"/><stop offset="0.6732" stop-color="#3e049c"/><stop offset="0.6784" stop-color="#3a049a"/><stop offset="0.6837" stop-color="#38049a"/><stop offset="0.6889" stop-color="#370499"/><stop offset="0.6942" stop-color="#350498"/><stop offset="0.6963" stop-color="#330597"/><stop offset="0.7100" stop-color="#330597"/><stop offset="0.7152" stop-color="#310597"/><stop offset="0.7310" stop-color="#310597"/><stop offset="0.7363" stop-color="#2f0596"/><stop offset="0.7520" stop-color="#2f0596"/><stop offset="0.7573" stop-color="#310597"/><stop offset="0.7731" stop-color="#310597"/><stop offset="0.7783" stop-color="#330597"/><stop offset="0.7920" stop-color="#330597"/><stop offset="0.7941" stop-color="#38049a"/><stop offset="0.7994" stop-color="#41049d"/><stop offset="0.8046" stop-color="#4b03a1"/><stop offset="0.8099" stop-color="#5302a3"/><stop offset="0.8112" stop-color="#5601a4"/><stop offset="0.8151" stop-color="#6a00a8"/><stop offset="0.8204" stop-color="#8606a6"/><stop offset="0.8225" stop-color="#8f0da4"/><stop offset="0.8257" stop-color="#a51f99"/><stop offset="0.8309" stop-color="#c13b82"/><stop offset="0.8330" stop-color="#cc4778"/><stop offset="0.8362" stop-color="#e4695e"/><stop offset="0.8399" stop-color="#f89540"/><stop offset="0.8414" stop-color="#fca537"/><stop offset="0.8467" stop-color="#f8e125"/><stop offset="0.8470" stop-color="#f7e425"/><stop offset="0.8501" stop-color="#f0f921"/><stop offset="0.8730" stop-color="#f0f921"/><stop offset="0.8783" stop-color="#f2844b"/><stop offset="0.8835" stop-color="#a21d9a"/><stop offset="0.8843" stop-color="#8f0da4"/><stop offset="0.8888" stop-color="#6300a7"/><stop offset="0.8909" stop-color="#4c02a1"/><stop offset="0.8940" stop-color="#3a049a"/><stop offset="0.8988" stop-color="#1d068e"/><stop offset="0.8993" stop-color="#1b068d"/><stop offset="0.9040" stop-color="#0d0887"/><stop offset="1.0000" stop-color="#0d0887"/></linearGradient><linearGradient id="b11" gradientUnits="userSpaceOnUse" x1="0" y1="8.2" x2="0" y2="388.5"><stop offset="0.0000" stop-color="#0d0887"/><stop offset="0.1888" stop-color="#0d0887"/><stop offset="0.2104" stop-color="#100788"/><stop offset="0.2156" stop-color="#100788"/><stop offset="0.2209" stop-color="#130789"/><stop offset="0.2261" stop-color="#130789"/><stop offset="0.2314" stop-color="#16078a"/><stop offset="0.2419" stop-color="#16078a"/><stop offset="0.2472" stop-color="#19068c"/><stop offset="0.2524" stop-color="#1b068d"/><stop offset="0.2577" stop-color="#1b068d"/><stop offset="0.2630" stop-color="#1d068e"/><stop offset="0.2682" stop-color="#20068f"/><stop offset="0.2735" stop-color="#220690"/><stop offset="0.2808" stop-color="#220690"/><stop offset="0.2840" stop-color="#240691"/><stop offset="0.2892" stop-color="#260591"/><stop offset="0.2945" stop-color="#260591"/><stop offset="0.2998" stop-color="#280592"/><stop offset="0.3050" stop-color="#2a0593"/><stop offset="0.3103" stop-color="#2c0594"/><stop offset="0.3155" stop-color="#2c0594"/><stop offset="0.3208" stop-color="#2e0595"/><stop offset="0.3261" stop-color="#2f0596"/><stop offset="0.3313" stop-color="#2f0596"/><stop offset="0.3361" stop-color="#310597"/><stop offset="0.3366" stop-color="#310597"/><stop offset="0.3418" stop-color="#350498"/><stop offset="0.3471" stop-color="#370499"/><stop offset="0.3524" stop-color="#3a049a"/><stop offset="0.3576" stop-color="#3c049b"/><stop offset="0.3629" stop-color="#3f049c"/><stop offset="0.3681" stop-color="#41049d"/><stop offset="0.3729" stop-color="#43039e"/><stop offset="0.3734" stop-color="#43039e"/><stop offset="0.3786" stop-color="#44039e"/><stop offset="0.3839" stop-color="#44039e"/><stop offset="0.3892" stop-color="#46039f"/><stop offset="0.3944" stop-color="#46039f"/><stop offset="0.3997" stop-color="#48039f"/><stop offset="0.4049" stop-color="#48039f"/><stop offset="0.4102" stop-color="#4903a0"/><stop offset="0.4155" stop-color="#4903a0"/><stop offset="0.4202" stop-color="#4b03a1"/><stop offset="0.4207" stop-color="#4b03a1"/><stop offset="0.4260" stop-color="#4903a0"/><stop offset="0.4312" stop-color="#4903a0"/><stop offset="0.4365" stop-color="#48039f"/><stop offset="0.4418" stop-color="#46039f"/><stop offset="0.4470" stop-color="#46039f"/><stop offset="0.4523" stop-color="#44039e"/><stop offset="0.4575" stop-color="#43039e"/><stop offset="0.4628" stop-color="#43039e"/><stop offset="0.4675" stop-color="#41049d"/><stop offset="0.4681" stop-color="#41049d"/><stop offset="0.4733" stop-color="#3f049c"/><stop offset="0.4786" stop-color="#3e049c"/><stop offset="0.4838" stop-color="#3c049b"/><stop offset="0.4891" stop-color="#3a049a"/><stop offset="0.4943" stop-color="#38049a"/><stop offset="0.4996" stop-color="#370499"/><stop offset="0.5049" stop-color="#350498"/><stop offset="0.5101" stop-color="#330597"/><stop offset="0.5154" stop-color="#310597"/><stop offset="0.5206" stop-color="#310597"/><stop offset="0.5259" stop-color="#2f0596"/><stop offset="0.5364" stop-color="#2f0596"/><stop offset="0.5417" stop-color="#2e0595"/><stop offset="0.5469" stop-color="#2e0595"/><stop offset="0.5522" stop-color="#2c0594"/><stop offset="0.5627" stop-color="#2c0594"/><stop offset="0.5680" stop-color="#2a0593"/><stop offset="0.5732" stop-color="#2a0593"/><stop offset="0.5785" stop-color="#280592"/><stop offset="0.6100" stop-color="#280592"/><stop offset="0.6153" stop-color="#260591"/><stop offset="0.6626" stop-color="#260591"/><stop offset="0.6679" stop-color="#2a0593"/><stop offset="0.6732" stop-color="#2e0595"/><stop offset="0.6784" stop-color="#330597"/><stop offset="0.6831" stop-color="#370499"/><stop offset="0.6837" stop-color="#370499"/><stop offset="0.6889" stop-color="#3f049c"/><stop offset="0.6942" stop-color="#48039f"/><stop offset="0.6963" stop-color="#4c02a1"/><stop offset="0.6994" stop-color="#5601a4"/><stop offset="0.7047" stop-color="#6900a8"/><stop offset="0.7100" stop-color="#7a02a8"/><stop offset="0.7110" stop-color="#7e03a8"/><stop offset="0.7152" stop-color="#a01a9c"/><stop offset="0.7200" stop-color="#bf3984"/><stop offset="0.7205" stop-color="#c13b82"/><stop offset="0.7257" stop-color="#da5a6a"/><stop offset="0.7302" stop-color="#ea7457"/><stop offset="0.7310" stop-color="#ed7953"/><stop offset="0.7363" stop-color="#fb9f3a"/><stop offset="0.7397" stop-color="#feba2c"/><stop offset="0.7415" stop-color="#fdc627"/><stop offset="0.7468" stop-color="#f4ed27"/><stop offset="0.7476" stop-color="#f1f426"/><stop offset="0.7520" stop-color="#f0f724"/><stop offset="0.7541" stop-color="#f0f921"/><stop offset="0.7573" stop-color="#f0f724"/><stop offset="0.7610" stop-color="#f1f426"/><stop offset="0.7626" stop-color="#f6e626"/><stop offset="0.7678" stop-color="#febb2b"/><stop offset="0.7707" stop-color="#fca636"/><stop offset="0.7731" stop-color="#f2844b"/><stop offset="0.7778" stop-color="#cc4778"/><stop offset="0.7783" stop-color="#c7427c"/><stop offset="0.7836" stop-color="#8e0ca4"/><stop offset="0.7849" stop-color="#7e03a8"/><stop offset="0.7889" stop-color="#6900a8"/><stop offset="0.7941" stop-color="#4c02a1"/><stop offset="0.7962" stop-color="#41049d"/><stop offset="0.7994" stop-color="#3c049b"/><stop offset="0.8046" stop-color="#330597"/><stop offset="0.8099" stop-color="#2a0593"/><stop offset="0.8151" stop-color="#20068f"/><stop offset="0.8159" stop-color="#1d068e"/><stop offset="0.8204" stop-color="#19068c"/><stop offset="0.8257" stop-color="#130789"/><stop offset="0.8304" stop-color="#0d0887"/><stop offset="1.0000" stop-color="#0d0887"/></linearGradient><linearGradient id="b12" gradientUnits="userSpaceOnUse" x1="0" y1="8.2" x2="0" y2="388.5"><stop offset="0.0000" stop-color="#0d0887"/><stop offset="0.5701" stop-color="#0d0887"/><stop offset="0.5732" stop-color="#130789"/><stop offset="0.5785" stop-color="#1d068e"/><stop offset="0.5837" stop-color="#260591"/><stop offset="0.5890" stop-color="#2e0595"/><stop offset="0.5943" stop-color="#350498"/><stop offset="0.5948" stop-color="#370499"/><stop offset="0.5995" stop-color="#48039f"/><stop offset="0.6048" stop-color="#5901a5"/><stop offset="0.6095" stop-color="#6a00a8"/><stop offset="0.6100" stop-color="#6e00a8"/><stop offset="0.6153" stop-color="#8e0ca4"/><stop offset="0.6187" stop-color="#a11b9b"/><stop offset="0.6206" stop-color="#b22b8f"/><stop offset="0.6253" stop-color="#d6556d"/><stop offset="0.6258" stop-color="#da5a6a"/><stop offset="0.6311" stop-color="#f1834c"/><stop offset="0.6332" stop-color="#f89540"/><stop offset="0.6363" stop-color="#fca636"/><stop offset="0.6416" stop-color="#fdc827"/><stop offset="0.6427" stop-color="#fcce25"/><stop offset="0.6469" stop-color="#fad824"/><stop offset="0.6516" stop-color="#f7e425"/><stop offset="0.6521" stop-color="#f7e225"/><stop offset="0.6574" stop-color="#f8df25"/><stop offset="0.6626" stop-color="#fada24"/><stop offset="0.6632" stop-color="#fad824"/><stop offset="0.6679" stop-color="#fca835"/><stop offset="0.6700" stop-color="#f89540"/><stop offset="0.6732" stop-color="#e76e5b"/><stop offset="0.6766" stop-color="#cc4778"/><stop offset="0.6784" stop-color="#bd3786"/><stop offset="0.6837" stop-color="#8a09a5"/><stop offset="0.6847" stop-color="#7e03a8"/><stop offset="0.6889" stop-color="#6900a8"/><stop offset="0.6942" stop-color="#4c02a1"/><stop offset="0.6963" stop-color="#41049d"/><stop offset="0.6994" stop-color="#3a049a"/><stop offset="0.7047" stop-color="#2f0596"/><stop offset="0.7100" stop-color="#240691"/><stop offset="0.7147" stop-color="#16078a"/><stop offset="0.7152" stop-color="#16078a"/><stop offset="0.7205" stop-color="#100788"/><stop offset="0.7252" stop-color="#0d0887"/><stop offset="1.0000" stop-color="#0d0887"/></linearGradient><linearGradient id="b13" gradientUnits="userSpaceOnUse" x1="0" y1="8.2" x2="0" y2="388.5"><stop offset="0.0000" stop-color="#0d0887"/><stop offset="0.3203" stop-color="#0d0887"/><stop offset="0.3576" stop-color="#100788"/><stop offset="0.3681" stop-color="#100788"/><stop offset="0.3734" stop-color="#130789"/><stop offset="0.3944" stop-color="#130789"/><stop offset="0.3997" stop-color="#16078a"/><stop offset="0.4207" stop-color="#16078a"/><stop offset="0.4260" stop-color="#19068c"/><stop offset="0.4470" stop-color="#19068c"/><stop offset="0.4517" stop-color="#1b068d"/><stop offset="0.4575" stop-color="#1b068d"/><stop offset="0.4628" stop-color="#1d068e"/><stop offset="0.4681" stop-color="#20068f"/><stop offset="0.4733" stop-color="#220690"/><stop offset="0.4786" stop-color="#240691"/><stop offset="0.4838" stop-color="#240691"/><stop offset="0.4891" stop-color="#260591"/><stop offset="0.4943" stop-color="#280592"/><stop offset="0.4996" stop-color="#2a0593"/><stop offset="0.5049" stop-color="#2a0593"/><stop offset="0.5101" stop-color="#2e0595"/><stop offset="0.5154" stop-color="#310597"/><stop offset="0.5206" stop-color="#350498"/><stop offset="0.5227" stop-color="#370499"/><stop offset="0.5259" stop-color="#3a049a"/><stop offset="0.5312" stop-color="#43039e"/><stop offset="0.5364" stop-color="#4903a0"/><stop offset="0.5417" stop-color="#5002a2"/><stop offset="0.5464" stop-color="#5601a4"/><stop offset="0.5469" stop-color="#5901a5"/><stop offset="0.5522" stop-color="#7501a8"/><stop offset="0.5575" stop-color="#8f0da4"/><stop offset="0.5614" stop-color="#a11b9b"/><stop offset="0.5627" stop-color="#b02991"/><stop offset="0.5680" stop-color="#db5c68"/><stop offset="0.5688" stop-color="#e16462"/><stop offset="0.5732" stop-color="#ed7953"/><stop offset="0.5785" stop-color="#f79342"/><stop offset="0.5806" stop-color="#fa9e3b"/><stop offset="0.5837" stop-color="#fba238"/><stop offset="0.5890" stop-color="#fca835"/><stop offset="0.5943" stop-color="#fdaf31"/><stop offset="0.5948" stop-color="#fdb130"/><stop offset="0.6140" stop-color="#fdb130"/><stop offset="0.6153" stop-color="#fca835"/><stop offset="0.6206" stop-color="#f58c46"/><stop offset="0.6253" stop-color="#ea7457"/><stop offset="0.6258" stop-color="#e76f5a"/><stop offset="0.6311" stop-color="#c33d80"/><stop offset="0.6332" stop-color="#b12a90"/><stop offset="0.6363" stop-color="#a11b9b"/><stop offset="0.6416" stop-color="#8405a7"/><stop offset="0.6427" stop-color="#7e03a8"/><stop offset="0.6469" stop-color="#7401a8"/><stop offset="0.6521" stop-color="#6600a7"/><stop offset="0.6574" stop-color="#5801a4"/><stop offset="0.6621" stop-color="#4c02a1"/><stop offset="0.6626" stop-color="#4b03a1"/><stop offset="0.6679" stop-color="#43039e"/><stop offset="0.6732" stop-color="#38049a"/><stop offset="0.6784" stop-color="#2f0596"/><stop offset="0.6831" stop-color="#260591"/><stop offset="0.6837" stop-color="#260591"/><stop offset="0.6889" stop-color="#220690"/><stop offset="0.6942" stop-color="#1d068e"/><stop offset="0.6994" stop-color="#19068c"/><stop offset="0.7047" stop-color="#16078a"/><stop offset="0.7100" stop-color="#100788"/><stop offset="0.7147" stop-color="#0d0887"/><stop offset="1.0000" stop-color="#0d0887"/></linearGradient><linearGradient id="b14" gradientUnits="userSpaceOnUse" x1="0" y1="8.2" x2="0" y2="388.5"><stop offset="0.0000" stop-color="#0d0887"/><stop offset="0.3203" stop-color="#0d0887"/><stop offset="0.3418" stop-color="#100788"/><stop offset="0.3471" stop-color="#130789"/><stop offset="0.3576" stop-color="#130789"/><stop offset="0.3629" stop-color="#16078a"/><stop offset="0.3681" stop-color="#16078a"/><stop offset="0.3734" stop-color="#19068c"/><stop offset="0.3839" stop-color="#19068c"/><stop offset="0.3860" stop-color="#1b068d"/><stop offset="0.3892" stop-color="#1b068d"/><stop offset="0.3944" stop-color="#1d068e"/><stop offset="0.3997" stop-color="#20068f"/><stop offset="0.4049" stop-color="#220690"/><stop offset="0.4102" stop-color="#240691"/><stop offset="0.4155" stop-color="#260591"/><stop offset="0.4207" stop-color="#280592"/><stop offset="0.4260" stop-color="#280592"/><stop offset="0.4307" stop-color="#2a0593"/><stop offset="0.4312" stop-color="#2c0594"/><stop offset="0.4365" stop-color="#2f0596"/><stop offset="0.4418" stop-color="#330597"/><stop offset="0.4470" stop-color="#370499"/><stop offset="0.4523" stop-color="#3a049a"/><stop offset="0.4575" stop-color="#3e049c"/><stop offset="0.4628" stop-color="#41049d"/><stop offset="0.4681" stop-color="#44039e"/><stop offset="0.4733" stop-color="#4903a0"/><stop offset="0.4780" stop-color="#4c02a1"/><stop offset="0.4786" stop-color="#4c02a1"/><stop offset="0.4838" stop-color="#5502a4"/><stop offset="0.4891" stop-color="#5e01a6"/><stop offset="0.4943" stop-color="#6600a7"/><stop offset="0.4991" stop-color="#6e00a8"/><stop offset="0.4996" stop-color="#6f00a8"/><stop offset="0.5049" stop-color="#7a02a8"/><stop offset="0.5101" stop-color="#8606a6"/><stop offset="0.5154" stop-color="#8f0da4"/><stop offset="0.5206" stop-color="#9a169f"/><stop offset="0.5227" stop-color="#9e199d"/><stop offset="0.5259" stop-color="#a21d9a"/><stop offset="0.5312" stop-color="#aa2395"/><stop offset="0.5364" stop-color="#b12a90"/><stop offset="0.5417" stop-color="#b7318a"/><stop offset="0.5469" stop-color="#be3885"/><stop offset="0.5472" stop-color="#bf3984"/><stop offset="0.5522" stop-color="#c23c81"/><stop offset="0.5575" stop-color="#c6417d"/><stop offset="0.5627" stop-color="#c9447a"/><stop offset="0.5680" stop-color="#cc4977"/><stop offset="0.5701" stop-color="#cd4a76"/><stop offset="0.5943" stop-color="#cd4a76"/><stop offset="0.5995" stop-color="#c9447a"/><stop offset="0.6048" stop-color="#c43e7f"/><stop offset="0.6100" stop-color="#c03a83"/><stop offset="0.6153" stop-color="#bb3488"/><stop offset="0.6187" stop-color="#b7318a"/><stop offset="0.6206" stop-color="#b52f8c"/><stop offset="0.6258" stop-color="#ad2793"/><stop offset="0.6311" stop-color="#a51f99"/><stop offset="0.6363" stop-color="#9c179e"/><stop offset="0.6416" stop-color="#920fa3"/><stop offset="0.6427" stop-color="#8f0da4"/><stop offset="0.6469" stop-color="#8a09a5"/><stop offset="0.6521" stop-color="#8305a7"/><stop offset="0.6574" stop-color="#7b02a8"/><stop offset="0.6621" stop-color="#7401a8"/><stop offset="0.6626" stop-color="#7401a8"/><stop offset="0.6679" stop-color="#6c00a8"/><stop offset="0.6732" stop-color="#6400a7"/><stop offset="0.6784" stop-color="#5e01a6"/><stop offset="0.6837" stop-color="#5601a4"/><stop offset="0.6884" stop-color="#5002a2"/><stop offset="0.6889" stop-color="#5002a2"/><stop offset="0.6942" stop-color="#4b03a1"/><stop offset="0.6994" stop-color="#46039f"/><stop offset="0.7047" stop-color="#41049d"/><stop offset="0.7100" stop-color="#3a049a"/><stop offset="0.7147" stop-color="#370499"/><stop offset="0.7152" stop-color="#370499"/><stop offset="0.7205" stop-color="#330597"/><stop offset="0.7257" stop-color="#310597"/><stop offset="0.7310" stop-color="#2f0596"/><stop offset="0.7363" stop-color="#2e0595"/><stop offset="0.7415" stop-color="#2a0593"/><stop offset="0.7468" stop-color="#280592"/><stop offset="0.7520" stop-color="#260591"/><stop offset="0.7573" stop-color="#240691"/><stop offset="0.7626" stop-color="#220690"/><stop offset="0.7678" stop-color="#1d068e"/><stop offset="0.7699" stop-color="#1d068e"/><stop offset="0.7731" stop-color="#1b068d"/><stop offset="0.7783" stop-color="#1b068d"/><stop offset="0.7836" stop-color="#19068c"/><stop offset="0.7889" stop-color="#16078a"/><stop offset="0.7941" stop-color="#16078a"/><stop offset="0.7994" stop-color="#130789"/><stop offset="0.8046" stop-color="#100788"/><stop offset="0.8099" stop-color="#100788"/><stop offset="0.8199" stop-color="#0d0887"/><stop offset="1.0000" stop-color="#0d0887"/></linearGradient><linearGradient id="b15" gradientUnits="userSpaceOnUse" x1="0" y1="8.2" x2="0" y2="388.5"><stop offset="0.0000" stop-color="#0d0887"/><stop offset="0.2414" stop-color="#0d0887"/><stop offset="0.2892" stop-color="#100788"/><stop offset="0.3050" stop-color="#100788"/><stop offset="0.3103" stop-color="#130789"/><stop offset="0.3418" stop-color="#130789"/><stop offset="0.3471" stop-color="#16078a"/><stop offset="0.3734" stop-color="#16078a"/><stop offset="0.3786" stop-color="#19068c"/><stop offset="0.3839" stop-color="#1b068d"/><stop offset="0.3892" stop-color="#1b068d"/><stop offset="0.3944" stop-color="#1d068e"/><stop offset="0.3997" stop-color="#1d068e"/><stop offset="0.4049" stop-color="#20068f"/><stop offset="0.4102" stop-color="#220690"/><stop offset="0.4155" stop-color="#220690"/><stop offset="0.4207" stop-color="#240691"/><stop offset="0.4260" stop-color="#240691"/><stop offset="0.4312" stop-color="#260591"/><stop offset="0.4365" stop-color="#280592"/><stop offset="0.4418" stop-color="#280592"/><stop offset="0.4470" stop-color="#2a0593"/><stop offset="0.4517" stop-color="#2a0593"/><stop offset="0.4523" stop-color="#2c0594"/><stop offset="0.4575" stop-color="#2f0596"/><stop offset="0.4628" stop-color="#330597"/><stop offset="0.4681" stop-color="#370499"/><stop offset="0.4733" stop-color="#3a049a"/><stop offset="0.4786" stop-color="#3e049c"/><stop offset="0.4838" stop-color="#41049d"/><stop offset="0.4891" stop-color="#44039e"/><stop offset="0.4943" stop-color="#4903a0"/><stop offset="0.4991" stop-color="#4c02a1"/><stop offset="0.4996" stop-color="#4c02a1"/><stop offset="0.5049" stop-color="#5601a4"/><stop offset="0.5101" stop-color="#5e01a6"/><stop offset="0.5154" stop-color="#6700a8"/><stop offset="0.5206" stop-color="#7100a8"/><stop offset="0.5227" stop-color="#7401a8"/><stop offset="0.5259" stop-color="#7a02a8"/><stop offset="0.5312" stop-color="#8405a7"/><stop offset="0.5364" stop-color="#8e0ca4"/><stop offset="0.5377" stop-color="#8f0da4"/><stop offset="0.5417" stop-color="#9e199d"/><stop offset="0.5469" stop-color="#b02991"/><stop offset="0.5472" stop-color="#b12a90"/><stop offset="0.5522" stop-color="#c23c81"/><stop offset="0.5569" stop-color="#d14e72"/><stop offset="0.5575" stop-color="#d24f71"/><stop offset="0.5627" stop-color="#d8576b"/><stop offset="0.5661" stop-color="#dc5d67"/><stop offset="0.5948" stop-color="#dc5d67"/><stop offset="0.5995" stop-color="#d45270"/><stop offset="0.6043" stop-color="#cc4778"/><stop offset="0.6048" stop-color="#c9447a"/><stop offset="0.6100" stop-color="#ab2494"/><stop offset="0.6116" stop-color="#a11b9b"/><stop offset="0.6153" stop-color="#8b0aa5"/><stop offset="0.6187" stop-color="#7401a8"/><stop offset="0.6206" stop-color="#7100a8"/><stop offset="0.6258" stop-color="#6600a7"/><stop offset="0.6311" stop-color="#5b01a5"/><stop offset="0.6363" stop-color="#5002a2"/><stop offset="0.6416" stop-color="#44039e"/><stop offset="0.6427" stop-color="#41049d"/><stop offset="0.6469" stop-color="#3c049b"/><stop offset="0.6521" stop-color="#370499"/><stop offset="0.6574" stop-color="#2f0596"/><stop offset="0.6621" stop-color="#2a0593"/><stop offset="0.6626" stop-color="#2a0593"/><stop offset="0.6679" stop-color="#280592"/><stop offset="0.6732" stop-color="#260591"/><stop offset="0.6784" stop-color="#240691"/><stop offset="0.6837" stop-color="#20068f"/><stop offset="0.6889" stop-color="#1d068e"/><stop offset="0.6942" stop-color="#1b068d"/><stop offset="0.6994" stop-color="#19068c"/><stop offset="0.7016" stop-color="#16078a"/><stop offset="0.7100" stop-color="#16078a"/><stop offset="0.7152" stop-color="#130789"/><stop offset="0.7205" stop-color="#100788"/><stop offset="0.7257" stop-color="#100788"/><stop offset="0.7410" stop-color="#0d0887"/><stop offset="1.0000" stop-color="#0d0887"/></linearGradient><linearGradient id="b16" gradientUnits="userSpaceOnUse" x1="0" y1="8.2" x2="0" y2="388.5"><stop offset="0.0000" stop-color="#0d0887"/><stop offset="0.2414" stop-color="#0d0887"/><stop offset="0.2945" stop-color="#100788"/><stop offset="0.3208" stop-color="#100788"/><stop offset="0.3261" stop-color="#130789"/><stop offset="0.3629" stop-color="#130789"/><stop offset="0.3681" stop-color="#16078a"/><stop offset="0.4049" stop-color="#16078a"/><stop offset="0.4102" stop-color="#19068c"/><stop offset="0.4418" stop-color="#19068c"/><stop offset="0.4470" stop-color="#1b068d"/><stop offset="0.4575" stop-color="#1b068d"/><stop offset="0.4628" stop-color="#1d068e"/><stop offset="0.4681" stop-color="#20068f"/><stop offset="0.4733" stop-color="#220690"/><stop offset="0.4786" stop-color="#220690"/><stop offset="0.4838" stop-color="#240691"/><stop offset="0.4891" stop-color="#260591"/><stop offset="0.4943" stop-color="#280592"/><stop offset="0.4996" stop-color="#2a0593"/><stop offset="0.5049" stop-color="#2a0593"/><stop offset="0.5101" stop-color="#2c0594"/><stop offset="0.5154" stop-color="#2e0595"/><stop offset="0.5206" stop-color="#2f0596"/><stop offset="0.5227" stop-color="#2f0596"/><stop offset="0.5259" stop-color="#310597"/><stop offset="0.5312" stop-color="#370499"/><stop offset="0.5364" stop-color="#3c049b"/><stop offset="0.5417" stop-color="#3f049c"/><stop offset="0.5469" stop-color="#44039e"/><stop offset="0.5522" stop-color="#48039f"/><stop offset="0.5575" stop-color="#4c02a1"/><stop offset="0.5627" stop-color="#5002a2"/><stop offset="0.5680" stop-color="#5502a4"/><stop offset="0.5701" stop-color="#5601a4"/><stop offset="0.5732" stop-color="#5b01a5"/><stop offset="0.5785" stop-color="#6400a7"/><stop offset="0.5837" stop-color="#6c00a8"/><stop offset="0.5890" stop-color="#7501a8"/><stop offset="0.5943" stop-color="#7d03a8"/><stop offset="0.5948" stop-color="#7e03a8"/><stop offset="0.5995" stop-color="#8606a6"/><stop offset="0.6048" stop-color="#8e0ca4"/><stop offset="0.6100" stop-color="#9613a1"/><stop offset="0.6121" stop-color="#9a169f"/><stop offset="0.6153" stop-color="#9d189d"/><stop offset="0.6206" stop-color="#a11b9b"/><stop offset="0.6253" stop-color="#a51f99"/><stop offset="0.6258" stop-color="#a31e9a"/><stop offset="0.6311" stop-color="#a01a9c"/><stop offset="0.6363" stop-color="#9c179e"/><stop offset="0.6384" stop-color="#9a169f"/><stop offset="0.6416" stop-color="#9613a1"/><stop offset="0.6469" stop-color="#8e0ca4"/><stop offset="0.6516" stop-color="#8707a6"/><stop offset="0.6521" stop-color="#8606a6"/><stop offset="0.6574" stop-color="#8004a8"/><stop offset="0.6621" stop-color="#7a02a8"/><stop offset="0.6626" stop-color="#7801a8"/><stop offset="0.6679" stop-color="#7100a8"/><stop offset="0.6732" stop-color="#6900a8"/><stop offset="0.6784" stop-color="#6100a7"/><stop offset="0.6831" stop-color="#5901a5"/><stop offset="0.6837" stop-color="#5901a5"/><stop offset="0.6889" stop-color="#5302a3"/><stop offset="0.6942" stop-color="#4c02a1"/><stop offset="0.6994" stop-color="#48039f"/><stop offset="0.7042" stop-color="#41049d"/><stop offset="0.7047" stop-color="#41049d"/><stop offset="0.7100" stop-color="#3e049c"/><stop offset="0.7152" stop-color="#38049a"/><stop offset="0.7205" stop-color="#350498"/><stop offset="0.7257" stop-color="#310597"/><stop offset="0.7278" stop-color="#2f0596"/><stop offset="0.7310" stop-color="#2e0595"/><stop offset="0.7363" stop-color="#2c0594"/><stop offset="0.7415" stop-color="#2a0593"/><stop offset="0.7468" stop-color="#280592"/><stop offset="0.7520" stop-color="#260591"/><stop offset="0.7573" stop-color="#240691"/><stop offset="0.7626" stop-color="#220690"/><stop offset="0.7673" stop-color="#20068f"/><stop offset="0.7731" stop-color="#20068f"/><stop offset="0.7783" stop-color="#1d068e"/><stop offset="0.7836" stop-color="#1d068e"/><stop offset="0.7889" stop-color="#1b068d"/><stop offset="0.7941" stop-color="#1b068d"/><stop offset="0.7994" stop-color="#19068c"/><stop offset="0.8046" stop-color="#19068c"/><stop offset="0.8099" stop-color="#16078a"/><stop offset="0.8151" stop-color="#16078a"/><stop offset="0.8199" stop-color="#130789"/><stop offset="0.8309" stop-color="#130789"/><stop offset="0.8362" stop-color="#100788"/><stop offset="0.8414" stop-color="#100788"/><stop offset="0.8725" stop-color="#0d0887"/><stop offset="1.0000" stop-color="#0d0887"/></linearGradient><linearGradient id="b17" gradientUnits="userSpaceOnUse" x1="0" y1="8.2" x2="0" y2="388.5"><stop offset="0.0000" stop-color="#0d0887"/><stop offset="0.2019" stop-color="#0d0887"/><stop offset="0.2156" stop-color="#100788"/><stop offset="0.2209" stop-color="#100788"/><stop offset="0.2261" stop-color="#130789"/><stop offset="0.2314" stop-color="#130789"/><stop offset="0.2367" stop-color="#16078a"/><stop offset="0.2419" stop-color="#16078a"/><stop offset="0.2472" stop-color="#19068c"/><stop offset="0.2524" stop-color="#19068c"/><stop offset="0.2577" stop-color="#1b068d"/><stop offset="0.2630" stop-color="#1b068d"/><stop offset="0.2677" stop-color="#1d068e"/><stop offset="0.2787" stop-color="#1d068e"/><stop offset="0.2840" stop-color="#20068f"/><stop offset="0.3103" stop-color="#20068f"/><stop offset="0.3155" stop-color="#220690"/><stop offset="0.3366" stop-color="#220690"/><stop offset="0.3418" stop-color="#240691"/><stop offset="0.4470" stop-color="#240691"/><stop offset="0.4523" stop-color="#260591"/><stop offset="0.4891" stop-color="#260591"/><stop offset="0.4943" stop-color="#280592"/><stop offset="0.5154" stop-color="#280592"/><stop offset="0.5206" stop-color="#2a0593"/><stop offset="0.5364" stop-color="#2a0593"/><stop offset="0.5417" stop-color="#2c0594"/><stop offset="0.5575" stop-color="#2c0594"/><stop offset="0.5596" stop-color="#2e0595"/><stop offset="0.5732" stop-color="#2e0595"/><stop offset="0.5785" stop-color="#2f0596"/><stop offset="0.5943" stop-color="#2f0596"/><stop offset="0.5995" stop-color="#310597"/><stop offset="0.6153" stop-color="#310597"/><stop offset="0.6206" stop-color="#330597"/><stop offset="0.6363" stop-color="#330597"/><stop offset="0.6416" stop-color="#350498"/><stop offset="0.6574" stop-color="#350498"/><stop offset="0.6621" stop-color="#370499"/><stop offset="0.6626" stop-color="#370499"/><stop offset="0.6679" stop-color="#350498"/><stop offset="0.6942" stop-color="#350498"/><stop offset="0.6994" stop-color="#330597"/><stop offset="0.7205" stop-color="#330597"/><stop offset="0.7257" stop-color="#310597"/><stop offset="0.7468" stop-color="#310597"/><stop offset="0.7520" stop-color="#2f0596"/><stop offset="0.7731" stop-color="#2f0596"/><stop offset="0.7783" stop-color="#2e0595"/><stop offset="0.7889" stop-color="#2e0595"/><stop offset="0.7941" stop-color="#2c0594"/><stop offset="0.8046" stop-color="#2c0594"/><stop offset="0.8099" stop-color="#2a0593"/><stop offset="0.8257" stop-color="#2a0593"/><stop offset="0.8309" stop-color="#280592"/><stop offset="0.8414" stop-color="#280592"/><stop offset="0.8467" stop-color="#260591"/><stop offset="0.8572" stop-color="#260591"/><stop offset="0.8625" stop-color="#240691"/><stop offset="0.8730" stop-color="#240691"/><stop offset="0.8783" stop-color="#220690"/><stop offset="0.8888" stop-color="#220690"/><stop offset="0.8940" stop-color="#20068f"/><stop offset="0.9203" stop-color="#20068f"/><stop offset="0.9256" stop-color="#1d068e"/><stop offset="0.9624" stop-color="#1d068e"/><stop offset="0.9677" stop-color="#1b068d"/><stop offset="1.0000" stop-color="#1b068d"/></linearGradient><linearGradient id="b18" gradientUnits="userSpaceOnUse" x1="0" y1="8.2" x2="0" y2="388.5"><stop offset="0.0000" stop-color="#0d0887"/><stop offset="0.2019" stop-color="#0d0887"/><stop offset="0.2261" stop-color="#100788"/><stop offset="0.2367" stop-color="#100788"/><stop offset="0.2419" stop-color="#130789"/><stop offset="0.2524" stop-color="#130789"/><stop offset="0.2577" stop-color="#16078a"/><stop offset="0.2735" stop-color="#16078a"/><stop offset="0.2787" stop-color="#19068c"/><stop offset="0.2892" stop-color="#19068c"/><stop offset="0.2940" stop-color="#1b068d"/><stop offset="0.3839" stop-color="#1b068d"/><stop offset="0.3892" stop-color="#1d068e"/><stop offset="0.4838" stop-color="#1d068e"/><stop offset="0.4891" stop-color="#20068f"/><stop offset="0.8625" stop-color="#20068f"/><stop offset="0.8677" stop-color="#1d068e"/><stop offset="0.9361" stop-color="#1d068e"/><stop offset="0.9414" stop-color="#1b068d"/><stop offset="1.0000" stop-color="#1b068d"/></linearGradient><linearGradient id="b19" gradientUnits="userSpaceOnUse" x1="0" y1="8.2" x2="0" y2="388.5"><stop offset="0.0000" stop-color="#0d0887"/><stop offset="0.2414" stop-color="#0d0887"/><stop offset="0.2840" stop-color="#100788"/><stop offset="0.2998" stop-color="#100788"/><stop offset="0.3050" stop-color="#130789"/><stop offset="0.3313" stop-color="#130789"/><stop offset="0.3366" stop-color="#16078a"/><stop offset="0.3629" stop-color="#16078a"/><stop offset="0.3681" stop-color="#19068c"/><stop offset="0.3944" stop-color="#19068c"/><stop offset="0.3992" stop-color="#1b068d"/><stop offset="0.4260" stop-color="#1b068d"/><stop offset="0.4312" stop-color="#1d068e"/><stop offset="0.4523" stop-color="#1d068e"/><stop offset="0.4575" stop-color="#20068f"/><stop offset="0.4838" stop-color="#20068f"/><stop offset="0.4891" stop-color="#220690"/><stop offset="0.5154" stop-color="#220690"/><stop offset="0.5206" stop-color="#240691"/><stop offset="0.5469" stop-color="#240691"/><stop offset="0.5522" stop-color="#260591"/><stop offset="0.8309" stop-color="#260591"/><stop offset="0.8362" stop-color="#240691"/><stop offset="0.8730" stop-color="#240691"/><stop offset="0.8783" stop-color="#220690"/><stop offset="0.9203" stop-color="#220690"/><stop offset="0.9256" stop-color="#20068f"/><stop offset="0.9677" stop-color="#20068f"/><stop offset="0.9729" stop-color="#1d068e"/><stop offset="1.0000" stop-color="#1d068e"/></linearGradient></defs>
<rect x="54.4" y="8.2" width="340.8" height="380.3" fill="#0d0887"/>
<g><rect x="54.00" y="8.2" width="10.07" height="380.3" fill="url(#a0)"/><rect x="63.47" y="8.2" width="19.54" height="380.3" fill="url(#a1)"/><rect x="82.41" y="8.2" width="19.54" height="380.3" fill="url(#a2)"/><rect x="101.35" y="8.2" width="19.54" height="380.3" fill="url(#a3)"/><rect x="120.30" y="8.2" width="19.54" height="380.3" fill="url(#a4)"/><rect x="139.24" y="8.2" width="19.54" height="380.3" fill="url(#a5)"/><rect x="158.18" y="8.2" width="19.54" height="380.3" fill="url(#a6)"/><rect x="177.12" y="8.2" width="19.54" height="380.3" fill="url(#a7)"/><rect x="196.06" y="8.2" width="19.54" height="380.3" fill="url(#a8)"/><rect x="215.00" y="8.2" width="19.54" height="380.3" fill="url(#a9)"/><rect x="233.95" y="8.2" width="19.54" height="380.3" fill="url(#a10)"/><rect x="252.89" y="8.2" width="19.54" height="380.3" fill="url(#a11)"/><rect x="271.83" y="8.2" width="19.54" height="380.3" fill="url(#a12)"/><rect x="290.77" y="8.2" width="19.54" height="380.3" fill="url(#a13)"/><rect x="309.71" y="8.2" width="19.54" height="380.3" fill="url(#a14)"/><rect x="328.65" y="8.2" width="19.54" height="380.3" fill="url(#a15)"/><rect x="347.60" y="8.2" width="19.54" height="380.3" fill="url(#a16)"/><rect x="366.54" y="8.2" width="19.54" height="380.3" fill="url(#a17)"/><rect x="385.48" y="8.2" width="9.72" height="380.3" fill="url(#a18)"/></g>
<path d="M54.4 7.9V388.5H395.5" fill="none" stroke="#000" stroke-width="1"/>
<path d="M54.4 8.2H395.2V388.5" fill="none" stroke="#111" stroke-width="0.65"/>
<line x1="51.4" y1="388.50" x2="54.4" y2="388.50" stroke="#000" stroke-width="0.8"/>
<line x1="51.4" y1="325.12" x2="54.4" y2="325.12" stroke="#000" stroke-width="0.8"/>
<line x1="51.4" y1="261.73" x2="54.4" y2="261.73" stroke="#000" stroke-width="0.8"/>
<line x1="51.4" y1="198.35" x2="54.4" y2="198.35" stroke="#000" stroke-width="0.8"/>
<line x1="51.4" y1="134.97" x2="54.4" y2="134.97" stroke="#000" stroke-width="0.8"/>
<line x1="51.4" y1="71.58" x2="54.4" y2="71.58" stroke="#000" stroke-width="0.8"/>
<line x1="51.4" y1="8.20" x2="54.4" y2="8.20" stroke="#000" stroke-width="0.8"/>
<rect x="416.2" y="8.2" width="19.5" height="380.3" fill="url(#cb)" stroke="#222" stroke-width="0.7"/>
<line x1="435.7" y1="388.50" x2="438.6" y2="388.50" stroke="#000" stroke-width="0.8"/>
<line x1="435.7" y1="293.43" x2="438.6" y2="293.43" stroke="#000" stroke-width="0.8"/>
<line x1="435.7" y1="198.35" x2="438.6" y2="198.35" stroke="#000" stroke-width="0.8"/>
<line x1="435.7" y1="103.27" x2="438.6" y2="103.27" stroke="#000" stroke-width="0.8"/>
<line x1="435.7" y1="8.20" x2="438.6" y2="8.20" stroke="#000" stroke-width="0.8"/>
<rect x="565.4" y="8.2" width="340.8" height="380.3" fill="#0d0887"/>
<g><rect x="565.30" y="8.2" width="9.57" height="380.3" fill="url(#b0)"/><rect x="574.27" y="8.2" width="18.54" height="380.3" fill="url(#b1)"/><rect x="592.21" y="8.2" width="18.54" height="380.3" fill="url(#b2)"/><rect x="610.16" y="8.2" width="18.54" height="380.3" fill="url(#b3)"/><rect x="628.10" y="8.2" width="18.54" height="380.3" fill="url(#b4)"/><rect x="646.04" y="8.2" width="18.54" height="380.3" fill="url(#b5)"/><rect x="663.98" y="8.2" width="18.54" height="380.3" fill="url(#b6)"/><rect x="681.92" y="8.2" width="18.54" height="380.3" fill="url(#b7)"/><rect x="699.87" y="8.2" width="18.54" height="380.3" fill="url(#b8)"/><rect x="717.81" y="8.2" width="18.54" height="380.3" fill="url(#b9)"/><rect x="735.75" y="8.2" width="18.54" height="380.3" fill="url(#b10)"/><rect x="753.69" y="8.2" width="18.54" height="380.3" fill="url(#b11)"/><rect x="771.63" y="8.2" width="18.54" height="380.3" fill="url(#b12)"/><rect x="789.58" y="8.2" width="18.54" height="380.3" fill="url(#b13)"/><rect x="807.52" y="8.2" width="18.54" height="380.3" fill="url(#b14)"/><rect x="825.46" y="8.2" width="18.54" height="380.3" fill="url(#b15)"/><rect x="843.40" y="8.2" width="18.54" height="380.3" fill="url(#b16)"/><rect x="861.34" y="8.2" width="18.54" height="380.3" fill="url(#b17)"/><rect x="879.29" y="8.2" width="18.54" height="380.3" fill="url(#b18)"/><rect x="897.23" y="8.2" width="9.22" height="380.3" fill="url(#b19)"/></g>
<path d="M565.4 7.9V388.5H906.5" fill="none" stroke="#000" stroke-width="1"/>
<path d="M565.4 8.2H906.2V388.5" fill="none" stroke="#111" stroke-width="0.65"/>
<line x1="562.4" y1="388.50" x2="565.4" y2="388.50" stroke="#000" stroke-width="0.8"/>
<line x1="562.4" y1="325.12" x2="565.4" y2="325.12" stroke="#000" stroke-width="0.8"/>
<line x1="562.4" y1="261.73" x2="565.4" y2="261.73" stroke="#000" stroke-width="0.8"/>
<line x1="562.4" y1="198.35" x2="565.4" y2="198.35" stroke="#000" stroke-width="0.8"/>
<line x1="562.4" y1="134.97" x2="565.4" y2="134.97" stroke="#000" stroke-width="0.8"/>
<line x1="562.4" y1="71.58" x2="565.4" y2="71.58" stroke="#000" stroke-width="0.8"/>
<line x1="562.4" y1="8.20" x2="565.4" y2="8.20" stroke="#000" stroke-width="0.8"/>
<rect x="927.2" y="8.2" width="19.5" height="380.3" fill="url(#cb)" stroke="#222" stroke-width="0.7"/>
<line x1="946.7" y1="388.50" x2="949.6" y2="388.50" stroke="#000" stroke-width="0.8"/>
<line x1="946.7" y1="293.43" x2="949.6" y2="293.43" stroke="#000" stroke-width="0.8"/>
<line x1="946.7" y1="198.35" x2="949.6" y2="198.35" stroke="#000" stroke-width="0.8"/>
<line x1="946.7" y1="103.27" x2="949.6" y2="103.27" stroke="#000" stroke-width="0.8"/>
<line x1="946.7" y1="8.20" x2="949.6" y2="8.20" stroke="#000" stroke-width="0.8"/>
<line x1="54.40" y1="388.5" x2="54.40" y2="391.7" stroke="#000" stroke-width="0.8"/>
<line x1="224.60" y1="388.5" x2="224.60" y2="391.7" stroke="#000" stroke-width="0.8"/>
<line x1="395.20" y1="388.5" x2="395.20" y2="391.7" stroke="#000" stroke-width="0.8"/>
<line x1="565.40" y1="388.5" x2="565.40" y2="391.7" stroke="#000" stroke-width="0.8"/>
<line x1="726.78" y1="388.5" x2="726.78" y2="391.7" stroke="#000" stroke-width="0.8"/>
<line x1="906.20" y1="388.5" x2="906.20" y2="391.7" stroke="#000" stroke-width="0.8"/>
<text transform="translate(49.40 398.30) scale(1 1.140)" text-anchor="end" font-size="25.60"  fill="#000" >0.0</text>
<text transform="translate(49.40 334.92) scale(1 1.140)" text-anchor="end" font-size="25.60"  fill="#000" >0.5</text>
<text transform="translate(49.40 271.53) scale(1 1.140)" text-anchor="end" font-size="25.60"  fill="#000" >1.0</text>
<text transform="translate(49.40 208.15) scale(1 1.140)" text-anchor="end" font-size="25.60"  fill="#000" >1.5</text>
<text transform="translate(49.40 144.77) scale(1 1.140)" text-anchor="end" font-size="25.60"  fill="#000" >2.0</text>
<text transform="translate(49.40 81.38) scale(1 1.140)" text-anchor="end" font-size="25.60"  fill="#000" >2.5</text>
<text transform="translate(49.40 18.00) scale(1 1.140)" text-anchor="end" font-size="25.60"  fill="#000" >3.0</text>
<text transform="translate(440.60 398.30) scale(1 1.140)" text-anchor="start" font-size="25.60"  fill="#000" >0.0</text>
<text transform="translate(440.60 303.23) scale(1 1.140)" text-anchor="start" font-size="25.60"  fill="#000" >0.5</text>
<text transform="translate(440.60 208.15) scale(1 1.140)" text-anchor="start" font-size="25.60"  fill="#000" >1.0</text>
<text transform="translate(440.60 113.07) scale(1 1.140)" text-anchor="start" font-size="25.60"  fill="#000" >1.5</text>
<text transform="translate(440.60 18.00) scale(1 1.140)" text-anchor="start" font-size="25.60"  fill="#000" >2.0</text>
<text transform="translate(560.40 398.30) scale(1 1.140)" text-anchor="end" font-size="25.60"  fill="#000" >0.0</text>
<text transform="translate(560.40 334.92) scale(1 1.140)" text-anchor="end" font-size="25.60"  fill="#000" >0.5</text>
<text transform="translate(560.40 271.53) scale(1 1.140)" text-anchor="end" font-size="25.60"  fill="#000" >1.0</text>
<text transform="translate(560.40 208.15) scale(1 1.140)" text-anchor="end" font-size="25.60"  fill="#000" >1.5</text>
<text transform="translate(560.40 144.77) scale(1 1.140)" text-anchor="end" font-size="25.60"  fill="#000" >2.0</text>
<text transform="translate(560.40 81.38) scale(1 1.140)" text-anchor="end" font-size="25.60"  fill="#000" >2.5</text>
<text transform="translate(560.40 18.00) scale(1 1.140)" text-anchor="end" font-size="25.60"  fill="#000" >3.0</text>
<text transform="translate(951.60 398.30) scale(1 1.140)" text-anchor="start" font-size="25.60"  fill="#000" >0.0</text>
<text transform="translate(951.60 303.23) scale(1 1.140)" text-anchor="start" font-size="25.60"  fill="#000" >0.5</text>
<text transform="translate(951.60 208.15) scale(1 1.140)" text-anchor="start" font-size="25.60"  fill="#000" >1.0</text>
<text transform="translate(951.60 113.07) scale(1 1.140)" text-anchor="start" font-size="25.60"  fill="#000" >1.5</text>
<text transform="translate(951.60 18.00) scale(1 1.140)" text-anchor="start" font-size="25.60"  fill="#000" >2.0</text>
<text transform="translate(55.00 412.80) scale(1 1.140)" text-anchor="middle" font-size="25.60"  fill="#000" >0</text>
<text transform="translate(566.00 412.80) scale(1 1.140)" text-anchor="middle" font-size="25.60"  fill="#000" >0</text>
<text transform="translate(224.50 412.80) scale(1 0.900)" text-anchor="middle" font-size="27.00" font-style="italic" fill="#000" >π</text>
<text transform="translate(726.28 412.80) scale(1 0.900)" text-anchor="middle" font-size="27.00" font-style="italic" fill="#000" >π</text>
<text transform="translate(394.00 412.80) scale(1 1.140)" text-anchor="end" font-size="25.60"  fill="#000" >2</text>
<text transform="translate(394.90 412.80) scale(1 0.900)" text-anchor="start" font-size="27.00" font-style="italic" fill="#000" >π</text>
<text transform="translate(905.00 412.80) scale(1 1.140)" text-anchor="end" font-size="25.60"  fill="#000" >2</text>
<text transform="translate(905.90 412.80) scale(1 0.900)" text-anchor="start" font-size="27.00" font-style="italic" fill="#000" >π</text>
<text transform="translate(225.20 438.00) scale(1 1.140)" text-anchor="middle" font-size="21.50" font-style="italic" fill="#000" >q</text>
<text transform="translate(735.68 438.00) scale(1 1.140)" text-anchor="middle" font-size="21.50" font-style="italic" fill="#000" >q</text>
<text transform="translate(9.80 198.3) rotate(-90) scale(1 1.000)" text-anchor="middle" font-size="21.50" font-style="italic">ω</text>
<text transform="translate(520.80 198.3) rotate(-90) scale(1 1.000)" text-anchor="middle" font-size="21.50" font-style="italic">ω</text>
<text transform="translate(74.3 46.6) scale(1 1.140)" font-size="22.5" fill="#fff">(<tspan font-style="italic">a</tspan>)</text>
<text transform="translate(584.3 46.6) scale(1 1.140)" font-size="22.5" fill="#fff">(<tspan font-style="italic">b</tspan>)</text>
</svg>
</body></html>
